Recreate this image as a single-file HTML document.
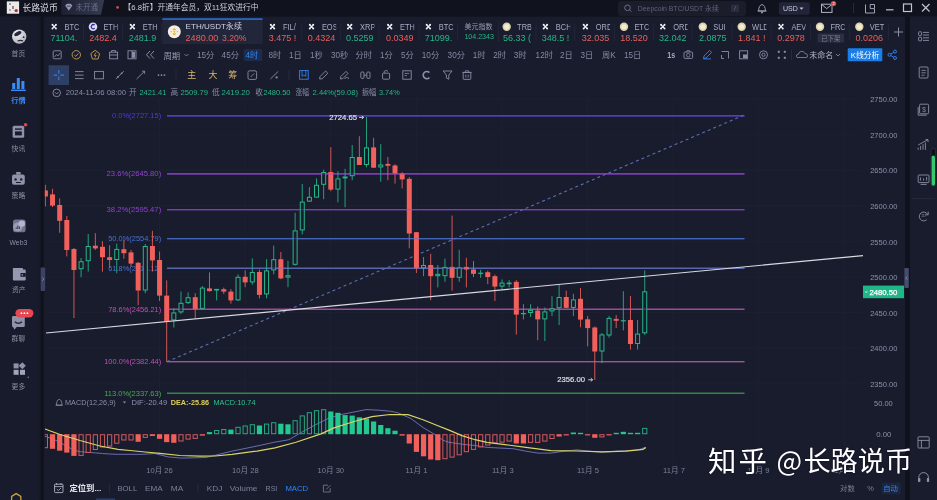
<!DOCTYPE html>
<html lang="zh-CN"><head><meta charset="utf-8"><title>ETH/USDT</title>
<style>
html,body{margin:0;padding:0;background:#191c2d;width:937px;height:500px;overflow:hidden}
svg{display:block;font-family:"Liberation Sans","Noto Sans CJK SC",sans-serif}
</style></head><body>
<svg width="937" height="500" viewBox="0 0 937 500">
<rect x="0" y="0" width="937" height="500" fill="#191c2d"/>
<rect x="0" y="0" width="937" height="16.6" fill="#10121d"/>
<defs><linearGradient id="lsep" x1="0" x2="1" y1="0" y2="0"><stop offset="0" stop-color="#181b2c"/><stop offset="0.35" stop-color="#13151f"/><stop offset="0.6" stop-color="#0e1019"/><stop offset="0.85" stop-color="#151826"/><stop offset="1" stop-color="#191c2d"/></linearGradient></defs>
<rect x="0" y="16.6" width="38.4" height="484" fill="#181b2c"/>
<rect x="38.4" y="16.6" width="6.6" height="484" fill="url(#lsep)"/>
<rect x="905" y="16.6" width="5" height="484" fill="#10121b"/>
<rect x="910" y="16.6" width="27" height="484" fill="#191c2d"/>
<line x1="45" y1="99.2" x2="862" y2="99.2" stroke="#1d2032" stroke-width="1"/>
<line x1="45" y1="134.8" x2="862" y2="134.8" stroke="#1d2032" stroke-width="1"/>
<line x1="45" y1="170.4" x2="862" y2="170.4" stroke="#1d2032" stroke-width="1"/>
<line x1="45" y1="206.0" x2="862" y2="206.0" stroke="#1d2032" stroke-width="1"/>
<line x1="45" y1="241.6" x2="862" y2="241.6" stroke="#1d2032" stroke-width="1"/>
<line x1="45" y1="277.2" x2="862" y2="277.2" stroke="#1d2032" stroke-width="1"/>
<line x1="45" y1="312.7" x2="862" y2="312.7" stroke="#1d2032" stroke-width="1"/>
<line x1="45" y1="348.3" x2="862" y2="348.3" stroke="#1d2032" stroke-width="1"/>
<line x1="45" y1="383.9" x2="862" y2="383.9" stroke="#1d2032" stroke-width="1"/>
<line x1="159.5" y1="100" x2="159.5" y2="462" stroke="#1d2032" stroke-width="1"/>
<line x1="245.1" y1="100" x2="245.1" y2="462" stroke="#1d2032" stroke-width="1"/>
<line x1="330.7" y1="100" x2="330.7" y2="462" stroke="#1d2032" stroke-width="1"/>
<line x1="416.3" y1="100" x2="416.3" y2="462" stroke="#1d2032" stroke-width="1"/>
<line x1="501.9" y1="100" x2="501.9" y2="462" stroke="#1d2032" stroke-width="1"/>
<line x1="587.5" y1="100" x2="587.5" y2="462" stroke="#1d2032" stroke-width="1"/>
<line x1="673.1" y1="100" x2="673.1" y2="462" stroke="#1d2032" stroke-width="1"/>
<line x1="758.7" y1="100" x2="758.7" y2="462" stroke="#1d2032" stroke-width="1"/>
<line x1="844.3" y1="100" x2="844.3" y2="462" stroke="#1d2032" stroke-width="1"/>
<line x1="167" y1="115.9" x2="744.5" y2="115.9" stroke="#5a44cf" stroke-width="1.1"/>
<text x="161.2" y="115.9" font-size="7.6" fill="#4d3ad6" text-anchor="end" font-weight="normal" textLength="49.2" lengthAdjust="spacingAndGlyphs" dominant-baseline="central">0.0%(2727.15)</text>
<line x1="167" y1="173.9" x2="744.5" y2="173.9" stroke="#9141d4" stroke-width="1.1"/>
<text x="161.2" y="173.9" font-size="7.6" fill="#9141d4" text-anchor="end" font-weight="normal" textLength="54.6" lengthAdjust="spacingAndGlyphs" dominant-baseline="central">23.6%(2645.80)</text>
<line x1="167" y1="209.7" x2="744.5" y2="209.7" stroke="#9141d4" stroke-width="1.1"/>
<text x="161.2" y="209.7" font-size="7.6" fill="#9141d4" text-anchor="end" font-weight="normal" textLength="54.6" lengthAdjust="spacingAndGlyphs" dominant-baseline="central">38.2%(2595.47)</text>
<line x1="167" y1="238.7" x2="744.5" y2="238.7" stroke="#4a72cf" stroke-width="1.1"/>
<text x="161.2" y="238.7" font-size="7.6" fill="#4a72cf" text-anchor="end" font-weight="normal" textLength="53" lengthAdjust="spacingAndGlyphs" dominant-baseline="central">50.0%(2554.79)</text>
<line x1="167" y1="268.2" x2="744.5" y2="268.2" stroke="#6475c4" stroke-width="1.1"/>
<text x="161.2" y="268.2" font-size="7.6" fill="#4a72cf" text-anchor="end" font-weight="normal" textLength="53" lengthAdjust="spacingAndGlyphs" dominant-baseline="central">61.8%(2514.12)</text>
<line x1="167" y1="309.2" x2="744.5" y2="309.2" stroke="#b656ae" stroke-width="1.1"/>
<text x="161.2" y="309.2" font-size="7.6" fill="#c04fb5" text-anchor="end" font-weight="normal" textLength="53" lengthAdjust="spacingAndGlyphs" dominant-baseline="central">78.6%(2456.21)</text>
<line x1="167" y1="361.7" x2="744.5" y2="361.7" stroke="#b35fac" stroke-width="1.1"/>
<text x="161.2" y="361.7" font-size="7.6" fill="#c04fb5" text-anchor="end" font-weight="normal" textLength="57" lengthAdjust="spacingAndGlyphs" dominant-baseline="central">100.0%(2382.44)</text>
<line x1="167" y1="393.2" x2="744.5" y2="393.2" stroke="#3a9a4c" stroke-width="1.1"/>
<text x="161.2" y="393.2" font-size="7.6" fill="#44ad50" text-anchor="end" font-weight="normal" textLength="57" lengthAdjust="spacingAndGlyphs" dominant-baseline="central">113.0%(2337.63)</text>
<line x1="167" y1="361.7" x2="745.5" y2="114.5" stroke="#5a6fae" stroke-width="1.1" stroke-dasharray="3 3"/>
<defs><clipPath id="plot"><rect x="44.8" y="96" width="818" height="372"/></clipPath></defs><g clip-path="url(#plot)">
<line x1="45.40" y1="184.8" x2="45.40" y2="206.4" stroke="#f2605c" stroke-width="1" opacity="0.85"/>
<rect x="42.90" y="190.4" width="5" height="6.1" fill="#f2605c"/>
<line x1="52.53" y1="188.8" x2="52.53" y2="207.0" stroke="#f2605c" stroke-width="1" opacity="0.85"/>
<rect x="50.03" y="194.4" width="5" height="11.2" fill="#f2605c"/>
<line x1="59.67" y1="198.4" x2="59.67" y2="232.8" stroke="#f2605c" stroke-width="1" opacity="0.85"/>
<rect x="57.17" y="205.0" width="5" height="15.8" fill="#f2605c"/>
<line x1="66.81" y1="216.0" x2="66.81" y2="256.4" stroke="#f2605c" stroke-width="1" opacity="0.85"/>
<rect x="64.31" y="220.0" width="5" height="30.0" fill="#f2605c"/>
<line x1="73.94" y1="248.0" x2="73.94" y2="318.0" stroke="#f2605c" stroke-width="1" opacity="0.85"/>
<rect x="71.44" y="249.0" width="5" height="21.0" fill="#f2605c"/>
<line x1="81.07" y1="258.0" x2="81.07" y2="277.2" stroke="#26b88a" stroke-width="1" opacity="0.85"/>
<rect x="79.07" y="261.7" width="4" height="7.0" fill="#191c2d" stroke="#26b88a" stroke-width="1"/>
<line x1="88.21" y1="234.0" x2="88.21" y2="271.6" stroke="#26b88a" stroke-width="1" opacity="0.85"/>
<rect x="86.21" y="246.5" width="4" height="14.2" fill="#191c2d" stroke="#26b88a" stroke-width="1"/>
<line x1="95.34" y1="233.2" x2="95.34" y2="250.0" stroke="#f2605c" stroke-width="1" opacity="0.85"/>
<rect x="92.84" y="245.7" width="5" height="2.7" fill="#f2605c"/>
<line x1="102.48" y1="241.2" x2="102.48" y2="271.6" stroke="#f2605c" stroke-width="1" opacity="0.85"/>
<rect x="99.98" y="246.8" width="5" height="10.4" fill="#f2605c"/>
<line x1="109.62" y1="245.2" x2="109.62" y2="267.6" stroke="#f2605c" stroke-width="1" opacity="0.85"/>
<rect x="107.12" y="257.2" width="5" height="2.8" fill="#f2605c"/>
<line x1="116.75" y1="243.6" x2="116.75" y2="273.2" stroke="#26b88a" stroke-width="1" opacity="0.85"/>
<rect x="114.75" y="249.4" width="4" height="10.1" fill="#191c2d" stroke="#26b88a" stroke-width="1"/>
<line x1="123.88" y1="239.6" x2="123.88" y2="258.8" stroke="#f2605c" stroke-width="1" opacity="0.85"/>
<rect x="121.38" y="249.2" width="5" height="4.0" fill="#f2605c"/>
<line x1="131.02" y1="250.0" x2="131.02" y2="266.8" stroke="#f2605c" stroke-width="1" opacity="0.85"/>
<rect x="128.52" y="252.4" width="5" height="11.2" fill="#f2605c"/>
<line x1="138.16" y1="262.0" x2="138.16" y2="305.2" stroke="#f2605c" stroke-width="1" opacity="0.85"/>
<rect x="135.66" y="262.8" width="5" height="27.7" fill="#f2605c"/>
<line x1="145.29" y1="244.0" x2="145.29" y2="293.2" stroke="#26b88a" stroke-width="1" opacity="0.85"/>
<rect x="143.29" y="246.5" width="4" height="43.5" fill="#191c2d" stroke="#26b88a" stroke-width="1"/>
<line x1="152.42" y1="230.8" x2="152.42" y2="271.6" stroke="#f2605c" stroke-width="1" opacity="0.85"/>
<rect x="149.92" y="246.0" width="5" height="14.4" fill="#f2605c"/>
<line x1="159.56" y1="251.6" x2="159.56" y2="301.0" stroke="#f2605c" stroke-width="1" opacity="0.85"/>
<rect x="157.06" y="260.0" width="5" height="35.6" fill="#f2605c"/>
<line x1="166.69" y1="280.4" x2="166.69" y2="362.0" stroke="#f2605c" stroke-width="1" opacity="0.85"/>
<rect x="164.19" y="295.6" width="5" height="25.6" fill="#f2605c"/>
<line x1="173.83" y1="308.4" x2="173.83" y2="327.6" stroke="#26b88a" stroke-width="1" opacity="0.85"/>
<rect x="171.83" y="312.9" width="4" height="7.0" fill="#191c2d" stroke="#26b88a" stroke-width="1"/>
<line x1="180.97" y1="291.6" x2="180.97" y2="314.0" stroke="#26b88a" stroke-width="1" opacity="0.85"/>
<rect x="178.97" y="303.3" width="4" height="8.6" fill="#191c2d" stroke="#26b88a" stroke-width="1"/>
<line x1="188.10" y1="292.4" x2="188.10" y2="304.0" stroke="#26b88a" stroke-width="1" opacity="0.85"/>
<rect x="186.10" y="297.7" width="4" height="4.9" fill="#191c2d" stroke="#26b88a" stroke-width="1"/>
<line x1="195.24" y1="293.2" x2="195.24" y2="318.8" stroke="#f2605c" stroke-width="1" opacity="0.85"/>
<rect x="192.74" y="297.2" width="5" height="12.0" fill="#f2605c"/>
<line x1="202.37" y1="286.0" x2="202.37" y2="309.2" stroke="#26b88a" stroke-width="1" opacity="0.85"/>
<rect x="200.37" y="288.1" width="4" height="20.3" fill="#191c2d" stroke="#26b88a" stroke-width="1"/>
<line x1="209.50" y1="272.4" x2="209.50" y2="291.6" stroke="#f2605c" stroke-width="1" opacity="0.85"/>
<rect x="207.00" y="288.4" width="5" height="2.7" fill="#f2605c"/>
<line x1="216.64" y1="288.9" x2="216.64" y2="300.4" stroke="#26b88a" stroke-width="1" opacity="0.85"/>
<rect x="214.14" y="288.9" width="5" height="1.6" fill="#26b88a"/>
<line x1="223.78" y1="287.6" x2="223.78" y2="294.0" stroke="#f2605c" stroke-width="1" opacity="0.85"/>
<rect x="221.28" y="289.2" width="5" height="2.4" fill="#f2605c"/>
<line x1="230.91" y1="289.2" x2="230.91" y2="303.6" stroke="#f2605c" stroke-width="1" opacity="0.85"/>
<rect x="228.41" y="291.6" width="5" height="8.8" fill="#f2605c"/>
<line x1="238.04" y1="274.4" x2="238.04" y2="301.0" stroke="#26b88a" stroke-width="1" opacity="0.85"/>
<rect x="236.04" y="277.3" width="4" height="22.6" fill="#191c2d" stroke="#26b88a" stroke-width="1"/>
<line x1="245.18" y1="270.4" x2="245.18" y2="287.2" stroke="#f2605c" stroke-width="1" opacity="0.85"/>
<rect x="242.68" y="276.8" width="5" height="5.6" fill="#f2605c"/>
<line x1="252.31" y1="258.4" x2="252.31" y2="284.8" stroke="#26b88a" stroke-width="1" opacity="0.85"/>
<rect x="250.31" y="272.5" width="4" height="9.4" fill="#191c2d" stroke="#26b88a" stroke-width="1"/>
<line x1="259.45" y1="269.6" x2="259.45" y2="298.4" stroke="#f2605c" stroke-width="1" opacity="0.85"/>
<rect x="256.95" y="272.0" width="5" height="22.9" fill="#f2605c"/>
<line x1="266.58" y1="259.2" x2="266.58" y2="298.4" stroke="#26b88a" stroke-width="1" opacity="0.85"/>
<rect x="264.58" y="270.9" width="4" height="23.0" fill="#191c2d" stroke="#26b88a" stroke-width="1"/>
<line x1="273.72" y1="245.6" x2="273.72" y2="274.4" stroke="#26b88a" stroke-width="1" opacity="0.85"/>
<rect x="271.72" y="259.7" width="4" height="10.2" fill="#191c2d" stroke="#26b88a" stroke-width="1"/>
<line x1="280.85" y1="252.0" x2="280.85" y2="279.2" stroke="#f2605c" stroke-width="1" opacity="0.85"/>
<rect x="278.35" y="259.2" width="5" height="19.2" fill="#f2605c"/>
<line x1="287.99" y1="260.8" x2="287.99" y2="287.2" stroke="#26b88a" stroke-width="1" opacity="0.85"/>
<rect x="285.99" y="275.7" width="4" height="1.4" fill="#191c2d" stroke="#26b88a" stroke-width="1"/>
<line x1="295.12" y1="212.8" x2="295.12" y2="265.6" stroke="#26b88a" stroke-width="1" opacity="0.85"/>
<rect x="293.12" y="230.9" width="4" height="33.4" fill="#191c2d" stroke="#26b88a" stroke-width="1"/>
<line x1="302.26" y1="184.0" x2="302.26" y2="234.4" stroke="#26b88a" stroke-width="1" opacity="0.85"/>
<rect x="300.26" y="202.1" width="4" height="27.8" fill="#191c2d" stroke="#26b88a" stroke-width="1"/>
<line x1="309.39" y1="187.2" x2="309.39" y2="202.0" stroke="#26b88a" stroke-width="1" opacity="0.85"/>
<rect x="307.39" y="197.3" width="4" height="3.8" fill="#191c2d" stroke="#26b88a" stroke-width="1"/>
<line x1="316.53" y1="178.4" x2="316.53" y2="197.6" stroke="#26b88a" stroke-width="1" opacity="0.85"/>
<rect x="314.53" y="185.3" width="4" height="11.8" fill="#191c2d" stroke="#26b88a" stroke-width="1"/>
<line x1="323.66" y1="169.6" x2="323.66" y2="199.2" stroke="#26b88a" stroke-width="1" opacity="0.85"/>
<rect x="321.66" y="172.5" width="4" height="11.8" fill="#191c2d" stroke="#26b88a" stroke-width="1"/>
<line x1="330.80" y1="147.2" x2="330.80" y2="191.2" stroke="#f2605c" stroke-width="1" opacity="0.85"/>
<rect x="328.30" y="172.0" width="5" height="17.6" fill="#f2605c"/>
<line x1="337.93" y1="171.2" x2="337.93" y2="202.4" stroke="#26b88a" stroke-width="1" opacity="0.85"/>
<rect x="335.93" y="178.9" width="4" height="10.2" fill="#191c2d" stroke="#26b88a" stroke-width="1"/>
<line x1="345.07" y1="168.8" x2="345.07" y2="207.2" stroke="#26b88a" stroke-width="1" opacity="0.85"/>
<rect x="342.57" y="176.5" width="5" height="1.9" fill="#26b88a"/>
<line x1="352.20" y1="145.0" x2="352.20" y2="180.2" stroke="#26b88a" stroke-width="1" opacity="0.85"/>
<rect x="350.20" y="157.5" width="4" height="18.2" fill="#191c2d" stroke="#26b88a" stroke-width="1"/>
<line x1="359.34" y1="136.2" x2="359.34" y2="165.0" stroke="#f2605c" stroke-width="1" opacity="0.85"/>
<rect x="356.84" y="157.0" width="5" height="8.0" fill="#f2605c"/>
<line x1="366.47" y1="117.0" x2="366.47" y2="167.4" stroke="#26b88a" stroke-width="1" opacity="0.85"/>
<rect x="364.47" y="147.9" width="4" height="16.6" fill="#191c2d" stroke="#26b88a" stroke-width="1"/>
<line x1="373.61" y1="137.8" x2="373.61" y2="168.0" stroke="#f2605c" stroke-width="1" opacity="0.85"/>
<rect x="371.11" y="147.4" width="5" height="20.3" fill="#f2605c"/>
<line x1="380.74" y1="144.2" x2="380.74" y2="181.8" stroke="#26b88a" stroke-width="1" opacity="0.85"/>
<rect x="378.74" y="165.0" width="4" height="1.9" fill="#191c2d" stroke="#26b88a" stroke-width="1"/>
<line x1="387.88" y1="157.0" x2="387.88" y2="180.2" stroke="#f2605c" stroke-width="1" opacity="0.85"/>
<rect x="385.38" y="163.9" width="5" height="1.9" fill="#f2605c"/>
<line x1="395.01" y1="164.2" x2="395.01" y2="183.6" stroke="#f2605c" stroke-width="1" opacity="0.85"/>
<rect x="392.51" y="165.5" width="5" height="8.0" fill="#f2605c"/>
<line x1="402.15" y1="172.2" x2="402.15" y2="188.4" stroke="#f2605c" stroke-width="1" opacity="0.85"/>
<rect x="399.65" y="173.5" width="5" height="5.9" fill="#f2605c"/>
<line x1="409.28" y1="177.0" x2="409.28" y2="248.3" stroke="#f2605c" stroke-width="1" opacity="0.85"/>
<rect x="406.78" y="178.8" width="5" height="54.7" fill="#f2605c"/>
<line x1="416.42" y1="232.0" x2="416.42" y2="273.0" stroke="#f2605c" stroke-width="1" opacity="0.85"/>
<rect x="413.92" y="232.2" width="5" height="36.0" fill="#f2605c"/>
<line x1="423.55" y1="257.0" x2="423.55" y2="276.2" stroke="#26b88a" stroke-width="1" opacity="0.85"/>
<rect x="421.55" y="265.5" width="4" height="2.2" fill="#191c2d" stroke="#26b88a" stroke-width="1"/>
<line x1="430.69" y1="253.8" x2="430.69" y2="300.2" stroke="#f2605c" stroke-width="1" opacity="0.85"/>
<rect x="428.19" y="265.0" width="5" height="11.2" fill="#f2605c"/>
<line x1="437.82" y1="265.0" x2="437.82" y2="287.4" stroke="#26b88a" stroke-width="1" opacity="0.85"/>
<rect x="435.82" y="274.3" width="4" height="1.4" fill="#191c2d" stroke="#26b88a" stroke-width="1"/>
<line x1="444.96" y1="258.6" x2="444.96" y2="281.8" stroke="#26b88a" stroke-width="1" opacity="0.85"/>
<rect x="442.96" y="267.4" width="4" height="8.3" fill="#191c2d" stroke="#26b88a" stroke-width="1"/>
<line x1="452.09" y1="215.6" x2="452.09" y2="290.6" stroke="#f2605c" stroke-width="1" opacity="0.85"/>
<rect x="449.59" y="266.9" width="5" height="10.9" fill="#f2605c"/>
<line x1="459.23" y1="249.8" x2="459.23" y2="281.8" stroke="#26b88a" stroke-width="1" opacity="0.85"/>
<rect x="457.23" y="267.9" width="4" height="9.4" fill="#191c2d" stroke="#26b88a" stroke-width="1"/>
<line x1="466.36" y1="257.8" x2="466.36" y2="287.4" stroke="#f2605c" stroke-width="1" opacity="0.85"/>
<rect x="463.86" y="266.9" width="5" height="2.6" fill="#f2605c"/>
<line x1="473.50" y1="261.0" x2="473.50" y2="277.0" stroke="#f2605c" stroke-width="1" opacity="0.85"/>
<rect x="471.00" y="269.5" width="5" height="4.3" fill="#f2605c"/>
<line x1="480.63" y1="269.8" x2="480.63" y2="277.8" stroke="#26b88a" stroke-width="1" opacity="0.85"/>
<rect x="478.13" y="272.7" width="5" height="1.2" fill="#26b88a"/>
<line x1="487.77" y1="270.6" x2="487.77" y2="284.2" stroke="#f2605c" stroke-width="1" opacity="0.85"/>
<rect x="485.27" y="272.2" width="5" height="4.8" fill="#f2605c"/>
<line x1="494.90" y1="274.6" x2="494.90" y2="301.0" stroke="#f2605c" stroke-width="1" opacity="0.85"/>
<rect x="492.40" y="276.2" width="5" height="10.4" fill="#f2605c"/>
<line x1="502.04" y1="279.4" x2="502.04" y2="289.0" stroke="#26b88a" stroke-width="1" opacity="0.85"/>
<rect x="500.04" y="283.1" width="4" height="3.0" fill="#191c2d" stroke="#26b88a" stroke-width="1"/>
<line x1="509.17" y1="280.2" x2="509.17" y2="287.4" stroke="#26b88a" stroke-width="1" opacity="0.85"/>
<rect x="506.67" y="282.6" width="5" height="1.6" fill="#26b88a"/>
<line x1="516.31" y1="280.2" x2="516.31" y2="334.6" stroke="#f2605c" stroke-width="1" opacity="0.85"/>
<rect x="513.81" y="281.8" width="5" height="32.8" fill="#f2605c"/>
<line x1="523.44" y1="304.2" x2="523.44" y2="319.4" stroke="#26b88a" stroke-width="1" opacity="0.85"/>
<rect x="520.94" y="313.0" width="5" height="1.2" fill="#26b88a"/>
<line x1="530.58" y1="304.2" x2="530.58" y2="317.0" stroke="#26b88a" stroke-width="1" opacity="0.85"/>
<rect x="528.58" y="310.3" width="4" height="2.2" fill="#191c2d" stroke="#26b88a" stroke-width="1"/>
<line x1="537.72" y1="306.6" x2="537.72" y2="340.2" stroke="#f2605c" stroke-width="1" opacity="0.85"/>
<rect x="535.22" y="310.6" width="5" height="8.8" fill="#f2605c"/>
<line x1="544.85" y1="307.4" x2="544.85" y2="341.0" stroke="#26b88a" stroke-width="1" opacity="0.85"/>
<rect x="542.85" y="311.9" width="4" height="7.0" fill="#191c2d" stroke="#26b88a" stroke-width="1"/>
<line x1="551.99" y1="296.2" x2="551.99" y2="316.2" stroke="#26b88a" stroke-width="1" opacity="0.85"/>
<rect x="549.99" y="308.7" width="4" height="2.2" fill="#191c2d" stroke="#26b88a" stroke-width="1"/>
<line x1="559.12" y1="285.0" x2="559.12" y2="325.0" stroke="#26b88a" stroke-width="1" opacity="0.85"/>
<rect x="557.12" y="297.5" width="4" height="10.2" fill="#191c2d" stroke="#26b88a" stroke-width="1"/>
<line x1="566.25" y1="290.6" x2="566.25" y2="308.2" stroke="#f2605c" stroke-width="1" opacity="0.85"/>
<rect x="563.75" y="297.0" width="5" height="10.9" fill="#f2605c"/>
<line x1="573.39" y1="293.8" x2="573.39" y2="316.2" stroke="#26b88a" stroke-width="1" opacity="0.85"/>
<rect x="571.39" y="299.9" width="4" height="7.5" fill="#191c2d" stroke="#26b88a" stroke-width="1"/>
<line x1="580.52" y1="288.0" x2="580.52" y2="327.3" stroke="#f2605c" stroke-width="1" opacity="0.85"/>
<rect x="578.02" y="298.8" width="5" height="20.8" fill="#f2605c"/>
<line x1="587.66" y1="316.0" x2="587.66" y2="346.4" stroke="#f2605c" stroke-width="1" opacity="0.85"/>
<rect x="585.16" y="319.3" width="5" height="8.8" fill="#f2605c"/>
<line x1="594.79" y1="326.4" x2="594.79" y2="380.0" stroke="#f2605c" stroke-width="1" opacity="0.85"/>
<rect x="592.29" y="327.5" width="5" height="24.0" fill="#f2605c"/>
<line x1="601.93" y1="333.0" x2="601.93" y2="363.2" stroke="#26b88a" stroke-width="1" opacity="0.85"/>
<rect x="599.93" y="334.9" width="4" height="16.1" fill="#191c2d" stroke="#26b88a" stroke-width="1"/>
<line x1="609.06" y1="316.0" x2="609.06" y2="337.6" stroke="#26b88a" stroke-width="1" opacity="0.85"/>
<rect x="607.06" y="318.4" width="4" height="16.6" fill="#191c2d" stroke="#26b88a" stroke-width="1"/>
<line x1="616.20" y1="315.2" x2="616.20" y2="328.0" stroke="#f2605c" stroke-width="1" opacity="0.85"/>
<rect x="613.70" y="318.9" width="5" height="1.9" fill="#f2605c"/>
<line x1="623.33" y1="291.2" x2="623.33" y2="330.4" stroke="#26b88a" stroke-width="1" opacity="0.85"/>
<rect x="620.83" y="320.2" width="5" height="1.2" fill="#26b88a"/>
<line x1="630.47" y1="296.0" x2="630.47" y2="349.6" stroke="#f2605c" stroke-width="1" opacity="0.85"/>
<rect x="627.97" y="320.0" width="5" height="24.0" fill="#f2605c"/>
<line x1="637.60" y1="320.0" x2="637.60" y2="349.6" stroke="#26b88a" stroke-width="1" opacity="0.85"/>
<rect x="635.60" y="334.1" width="4" height="9.4" fill="#191c2d" stroke="#26b88a" stroke-width="1"/>
<line x1="644.74" y1="270.4" x2="644.74" y2="334.9" stroke="#26b88a" stroke-width="1" opacity="0.85"/>
<rect x="642.74" y="291.8" width="4" height="41.0" fill="#191c2d" stroke="#26b88a" stroke-width="1"/>
</g>
<line x1="167" y1="115.9" x2="744.5" y2="115.9" stroke="#5a44cf" stroke-width="1.2" opacity="0.45"/>
<line x1="167" y1="173.9" x2="744.5" y2="173.9" stroke="#9141d4" stroke-width="1.2" opacity="0.45"/>
<line x1="167" y1="209.7" x2="744.5" y2="209.7" stroke="#9141d4" stroke-width="1.2" opacity="0.45"/>
<line x1="167" y1="238.7" x2="744.5" y2="238.7" stroke="#4a72cf" stroke-width="1.2" opacity="0.45"/>
<line x1="167" y1="268.2" x2="744.5" y2="268.2" stroke="#6475c4" stroke-width="1.2" opacity="0.45"/>
<line x1="167" y1="309.2" x2="744.5" y2="309.2" stroke="#b656ae" stroke-width="1.2" opacity="0.45"/>
<line x1="167" y1="361.7" x2="744.5" y2="361.7" stroke="#b35fac" stroke-width="1.2" opacity="0.45"/>
<line x1="167" y1="393.2" x2="744.5" y2="393.2" stroke="#3a9a4c" stroke-width="1.2" opacity="0.45"/>
<line x1="46" y1="333" x2="863" y2="255.6" stroke="#d9d9e2" stroke-width="1.2"/>
<text x="557.3" y="379.6" font-size="7.7" fill="#dcdee8" text-anchor="start" font-weight="normal" textLength="27.7" lengthAdjust="spacingAndGlyphs" dominant-baseline="central" stroke="#dcdee8" stroke-width="0.2">2356.00</text>
<path d="M588.2 379.8 H592.6 M590.8 378.2 L592.6 379.8 L590.8 381.4" fill="none" stroke="#dcdee8" stroke-width="0.9"/>
<text x="329.2" y="117.2" font-size="7.7" fill="#dcdee8" text-anchor="start" font-weight="normal" textLength="28" lengthAdjust="spacingAndGlyphs" dominant-baseline="central" stroke="#dcdee8" stroke-width="0.2">2724.65</text>
<path d="M359 117.4 H363.6 M361.8 115.8 L363.6 117.4 L361.8 119" fill="none" stroke="#dcdee8" stroke-width="0.9"/>
<g clip-path="url(#plot)">
<polyline points="44,436 52.5,438.8 59.6,442.2 66.8,446.2 74,450.3 81.1,451.8 88.2,452.4 95.4,452.9 102.5,453.5 109.6,454 117,454.3 142,454.3 155,453.5 168,456.9 181,458.1 206,457.5 219,454.3 232,451.1 245,448.5 257,446 275,442.1 289,439.7 302,432 315,425 328,418.6 340,414.7 353,412.2 366,409.6 379,410.2 391,411.3 398,412.8 411,418.6 423,427.5 436,435.2 443,440.3 449,442.3 462,444.2 475,445.5 487,447.4 505,448.3 513,448.7 526,451.2 538,453.1 551,453.1 564,451.2 577,449.9 590,451.2 602,452.2 620,451 638,450 645,447.4" fill="none" stroke="#6a6dae" stroke-width="1"/>
<rect x="43.30" y="434.7" width="4.2" height="13.0" fill="none" stroke="#cf5a5e" stroke-width="1"/>
<rect x="49.93" y="434.2" width="5.2" height="14.6" fill="#f2605c"/>
<rect x="57.07" y="434.2" width="5.2" height="16.5" fill="#f2605c"/>
<rect x="64.21" y="434.2" width="5.2" height="18.4" fill="#f2605c"/>
<rect x="71.34" y="434.2" width="5.2" height="21.7" fill="#f2605c"/>
<rect x="78.97" y="434.7" width="4.2" height="20.7" fill="none" stroke="#cf5a5e" stroke-width="1"/>
<rect x="86.11" y="434.7" width="4.2" height="17.8" fill="none" stroke="#cf5a5e" stroke-width="1"/>
<rect x="93.25" y="434.7" width="4.2" height="14.8" fill="none" stroke="#cf5a5e" stroke-width="1"/>
<rect x="100.38" y="434.7" width="4.2" height="12.3" fill="none" stroke="#cf5a5e" stroke-width="1"/>
<rect x="107.52" y="434.7" width="4.2" height="11.4" fill="none" stroke="#cf5a5e" stroke-width="1"/>
<rect x="114.65" y="434.7" width="4.2" height="8.5" fill="none" stroke="#cf5a5e" stroke-width="1"/>
<rect x="121.78" y="434.7" width="4.2" height="5.3" fill="none" stroke="#cf5a5e" stroke-width="1"/>
<rect x="128.92" y="434.7" width="4.2" height="5.3" fill="none" stroke="#cf5a5e" stroke-width="1"/>
<rect x="135.56" y="434.2" width="5.2" height="7.6" fill="#f2605c"/>
<rect x="143.19" y="434.7" width="4.2" height="2.7" fill="none" stroke="#cf5a5e" stroke-width="1"/>
<rect x="149.82" y="434.2" width="5.2" height="1.8" fill="#f2605c"/>
<rect x="156.96" y="434.2" width="5.2" height="4.6" fill="#f2605c"/>
<rect x="164.09" y="434.2" width="5.2" height="7.9" fill="#f2605c"/>
<rect x="171.23" y="434.2" width="5.2" height="8.6" fill="#f2605c"/>
<rect x="178.87" y="434.7" width="4.2" height="6.3" fill="none" stroke="#cf5a5e" stroke-width="1"/>
<rect x="186.00" y="434.7" width="4.2" height="4.4" fill="none" stroke="#cf5a5e" stroke-width="1"/>
<rect x="193.14" y="434.7" width="4.2" height="3.7" fill="none" stroke="#cf5a5e" stroke-width="1"/>
<rect x="199.77" y="434.2" width="5.2" height="1.4" fill="#f2605c"/>
<rect x="206.91" y="432.1" width="5.2" height="2.1" fill="#22c88e"/>
<rect x="214.54" y="430.5" width="4.2" height="3.2" fill="none" stroke="#27a880" stroke-width="1"/>
<rect x="221.68" y="429.5" width="4.2" height="4.2" fill="none" stroke="#27a880" stroke-width="1"/>
<rect x="228.31" y="429.6" width="5.2" height="4.6" fill="#22c88e"/>
<rect x="235.94" y="427.3" width="4.2" height="6.4" fill="none" stroke="#27a880" stroke-width="1"/>
<rect x="243.08" y="426.0" width="4.2" height="7.7" fill="none" stroke="#27a880" stroke-width="1"/>
<rect x="250.22" y="424.7" width="4.2" height="9.0" fill="none" stroke="#27a880" stroke-width="1"/>
<rect x="256.85" y="425.5" width="5.2" height="8.7" fill="#22c88e"/>
<rect x="264.48" y="424.1" width="4.2" height="9.6" fill="none" stroke="#27a880" stroke-width="1"/>
<rect x="271.62" y="422.7" width="4.2" height="11.0" fill="none" stroke="#27a880" stroke-width="1"/>
<rect x="278.25" y="423.7" width="5.2" height="10.5" fill="#22c88e"/>
<rect x="285.39" y="424.3" width="5.2" height="9.9" fill="#22c88e"/>
<rect x="293.02" y="420.7" width="4.2" height="13.0" fill="none" stroke="#27a880" stroke-width="1"/>
<rect x="300.16" y="415.9" width="4.2" height="17.8" fill="none" stroke="#27a880" stroke-width="1"/>
<rect x="307.29" y="412.7" width="4.2" height="21.0" fill="none" stroke="#27a880" stroke-width="1"/>
<rect x="314.43" y="410.7" width="4.2" height="23.0" fill="none" stroke="#27a880" stroke-width="1"/>
<rect x="321.56" y="409.7" width="4.2" height="24.0" fill="none" stroke="#27a880" stroke-width="1"/>
<rect x="328.20" y="411.5" width="5.2" height="22.7" fill="#22c88e"/>
<rect x="335.33" y="412.8" width="5.2" height="21.4" fill="#22c88e"/>
<rect x="342.47" y="415.1" width="5.2" height="19.1" fill="#22c88e"/>
<rect x="349.60" y="415.6" width="5.2" height="18.6" fill="#22c88e"/>
<rect x="356.74" y="417.3" width="5.2" height="16.9" fill="#22c88e"/>
<rect x="363.87" y="418.6" width="5.2" height="15.6" fill="#22c88e"/>
<rect x="371.01" y="421.5" width="5.2" height="12.7" fill="#22c88e"/>
<rect x="378.14" y="425.0" width="5.2" height="9.2" fill="#22c88e"/>
<rect x="385.28" y="428.2" width="5.2" height="6.0" fill="#22c88e"/>
<rect x="392.41" y="430.7" width="5.2" height="3.5" fill="#22c88e"/>
<rect x="399.55" y="434.2" width="5.2" height="1.4" fill="#f2605c"/>
<rect x="406.68" y="434.2" width="5.2" height="9.3" fill="#f2605c"/>
<rect x="413.82" y="434.2" width="5.2" height="17.7" fill="#f2605c"/>
<rect x="420.95" y="434.2" width="5.2" height="22.1" fill="#f2605c"/>
<rect x="428.09" y="434.2" width="5.2" height="25.3" fill="#f2605c"/>
<rect x="435.22" y="434.2" width="5.2" height="26.0" fill="#f2605c"/>
<rect x="442.86" y="434.7" width="4.2" height="24.0" fill="none" stroke="#cf5a5e" stroke-width="1"/>
<rect x="449.99" y="434.7" width="4.2" height="22.4" fill="none" stroke="#cf5a5e" stroke-width="1"/>
<rect x="457.13" y="434.7" width="4.2" height="20.1" fill="none" stroke="#cf5a5e" stroke-width="1"/>
<rect x="464.26" y="434.7" width="4.2" height="17.0" fill="none" stroke="#cf5a5e" stroke-width="1"/>
<rect x="471.40" y="434.7" width="4.2" height="14.7" fill="none" stroke="#cf5a5e" stroke-width="1"/>
<rect x="478.53" y="434.7" width="4.2" height="12.2" fill="none" stroke="#cf5a5e" stroke-width="1"/>
<rect x="485.67" y="434.7" width="4.2" height="10.3" fill="none" stroke="#cf5a5e" stroke-width="1"/>
<rect x="492.80" y="434.7" width="4.2" height="8.3" fill="none" stroke="#cf5a5e" stroke-width="1"/>
<rect x="499.94" y="434.7" width="4.2" height="7.4" fill="none" stroke="#cf5a5e" stroke-width="1"/>
<rect x="507.07" y="434.7" width="4.2" height="6.4" fill="none" stroke="#cf5a5e" stroke-width="1"/>
<rect x="513.71" y="434.2" width="5.2" height="9.3" fill="#f2605c"/>
<rect x="520.84" y="434.2" width="5.2" height="9.3" fill="#f2605c"/>
<rect x="528.48" y="434.7" width="4.2" height="7.7" fill="none" stroke="#cf5a5e" stroke-width="1"/>
<rect x="535.62" y="434.7" width="4.2" height="7.7" fill="none" stroke="#cf5a5e" stroke-width="1"/>
<rect x="542.75" y="434.7" width="4.2" height="6.4" fill="none" stroke="#cf5a5e" stroke-width="1"/>
<rect x="549.88" y="434.7" width="4.2" height="3.8" fill="none" stroke="#cf5a5e" stroke-width="1"/>
<rect x="556.52" y="434.2" width="5.2" height="2.3" fill="#f2605c"/>
<rect x="563.65" y="434.2" width="5.2" height="1.2" fill="#f2605c"/>
<rect x="570.79" y="432.5" width="5.2" height="1.7" fill="#22c88e"/>
<rect x="577.92" y="432.8" width="5.2" height="1.4" fill="#22c88e"/>
<rect x="585.06" y="434.2" width="5.2" height="1.2" fill="#f2605c"/>
<rect x="592.19" y="434.2" width="5.2" height="3.6" fill="#f2605c"/>
<rect x="599.83" y="434.7" width="4.2" height="2.2" fill="none" stroke="#cf5a5e" stroke-width="1"/>
<rect x="606.46" y="434.2" width="5.2" height="1.2" fill="#f2605c"/>
<rect x="613.60" y="432.8" width="5.2" height="1.4" fill="#22c88e"/>
<rect x="620.73" y="431.8" width="5.2" height="2.4" fill="#22c88e"/>
<rect x="627.87" y="432.8" width="5.2" height="1.4" fill="#22c88e"/>
<rect x="635.00" y="432.8" width="5.2" height="1.4" fill="#22c88e"/>
<rect x="642.64" y="428.4" width="4.2" height="5.3" fill="none" stroke="#27a880" stroke-width="1"/>
<polyline points="45,429 60,434.5 80,440.5 100,446 118,449.3 130,450.5 145,452 160,453.3 180,455.5 200,456.2 215,456 232,454.3 257,451.1 275,447.9 296,442.3 321,433.9 334,427.9 347,423.7 360,419.8 372,416.6 390,414.5 408,414.7 423,419.8 436,425 449,430.1 462,435.6 475,439.7 487,442.3 505,444.6 526,447.4 551,450.6 577,451 602,451.9 626,451.2 643,449.3 646,447.6" fill="none" stroke="#d8d466" stroke-width="1.2"/>
</g>
<text x="897.4" y="99.7" font-size="7.6" fill="#8e92aa" text-anchor="end" font-weight="normal" textLength="27.2" lengthAdjust="spacingAndGlyphs" dominant-baseline="central">2750.00</text>
<text x="897.4" y="135.29000000000002" font-size="7.6" fill="#8e92aa" text-anchor="end" font-weight="normal" textLength="27.2" lengthAdjust="spacingAndGlyphs" dominant-baseline="central">2700.00</text>
<text x="897.4" y="170.88" font-size="7.6" fill="#8e92aa" text-anchor="end" font-weight="normal" textLength="27.2" lengthAdjust="spacingAndGlyphs" dominant-baseline="central">2650.00</text>
<text x="897.4" y="206.47000000000003" font-size="7.6" fill="#8e92aa" text-anchor="end" font-weight="normal" textLength="27.2" lengthAdjust="spacingAndGlyphs" dominant-baseline="central">2600.00</text>
<text x="897.4" y="242.06" font-size="7.6" fill="#8e92aa" text-anchor="end" font-weight="normal" textLength="27.2" lengthAdjust="spacingAndGlyphs" dominant-baseline="central">2550.00</text>
<text x="897.4" y="277.65000000000003" font-size="7.6" fill="#8e92aa" text-anchor="end" font-weight="normal" textLength="27.2" lengthAdjust="spacingAndGlyphs" dominant-baseline="central">2500.00</text>
<text x="897.4" y="313.24" font-size="7.6" fill="#8e92aa" text-anchor="end" font-weight="normal" textLength="27.2" lengthAdjust="spacingAndGlyphs" dominant-baseline="central">2450.00</text>
<text x="897.4" y="348.83000000000004" font-size="7.6" fill="#8e92aa" text-anchor="end" font-weight="normal" textLength="27.2" lengthAdjust="spacingAndGlyphs" dominant-baseline="central">2400.00</text>
<text x="897.4" y="384.42" font-size="7.6" fill="#8e92aa" text-anchor="end" font-weight="normal" textLength="27.2" lengthAdjust="spacingAndGlyphs" dominant-baseline="central">2350.00</text>
<text x="892.8" y="403.2" font-size="7.6" fill="#8e92aa" text-anchor="end" font-weight="normal" textLength="18.8" lengthAdjust="spacingAndGlyphs" dominant-baseline="central">50.00</text>
<text x="891.4" y="434.4" font-size="7.6" fill="#8e92aa" text-anchor="end" font-weight="normal" textLength="15.2" lengthAdjust="spacingAndGlyphs" dominant-baseline="central">0.00</text>
<rect x="863" y="285.6" width="41" height="12.6" fill="#1fb787"/>
<line x1="865" y1="292" x2="867.5" y2="292" stroke="#e8fff6" stroke-width="0.8"/>
<text x="869.4" y="292" font-size="7.8" fill="#ffffff" text-anchor="start" font-weight="normal" textLength="28" lengthAdjust="spacingAndGlyphs" dominant-baseline="central" stroke="#ffffff" stroke-width="0.25">2480.50</text>

<rect x="6.8" y="1.4" width="12.3" height="12.3" fill="#ece9e8"/>
<rect x="9" y="3" width="2" height="2" fill="#9a9aa0"/><rect x="12" y="6" width="2" height="3" fill="#8a8a90"/><rect x="9" y="9" width="2" height="2" fill="#b0a8a8"/>
<circle cx="16.2" cy="10.6" r="1.7" fill="#b8302c"/>
<text x="22.5" y="7.6" font-size="8.8" fill="#d6d8e2" text-anchor="start" font-weight="normal" dominant-baseline="central" >长路说币</text>
<defs><linearGradient id="bdg" x1="0" x2="1" y1="0" y2="0"><stop offset="0" stop-color="#1d2032"/><stop offset="1" stop-color="#363a50"/></linearGradient></defs>
<path d="M61.4 0 H104.2 L101 14.7 H61.4 Z" fill="url(#bdg)"/>
<path d="M65.2 5.6 L67 3.8 H70.6 L72.4 5.6 L68.8 10.8 Z" fill="#9498b2"/><path d="M67 6.2 H70.6" stroke="#2a2d40" stroke-width="0.8"/>
<text x="75.5" y="7.2" font-size="7.6" fill="#676c88" text-anchor="start" font-weight="normal" dominant-baseline="central" textLength="22.5" lengthAdjust="spacingAndGlyphs" >未开通</text>
<circle cx="117.6" cy="7.4" r="1.4" fill="#d84457"/>
<text x="123.6" y="7.4" font-size="8" fill="#cfd1db" text-anchor="start" font-weight="normal" dominant-baseline="central" textLength="135" lengthAdjust="spacingAndGlyphs" >【6.8折】开通年会员，双11狂欢进行中</text>
<rect x="618" y="1" width="128" height="15" rx="3" fill="#1b1d2b"/>
<circle cx="627.5" cy="7.8" r="2.8" fill="none" stroke="#6b6f87" stroke-width="1"/><line x1="629.5" y1="9.8" x2="631.3" y2="11.6" stroke="#6b6f87" stroke-width="1"/>
<text x="637.8" y="8.2" font-size="6.9" fill="#5f6379" text-anchor="start" font-weight="normal" dominant-baseline="central" >Deepcoin BTC/USDT 永续</text>
<rect x="731" y="4.5" width="8" height="7.5" rx="1" fill="#2a2d40"/>
<text x="735" y="8.3" font-size="6" fill="#6b6f87" text-anchor="middle" font-weight="normal" dominant-baseline="central" >/</text>
<path d="M758.5 11 Q759 5 762 4.6 Q765 5 765.5 11 Z" fill="none" stroke="#9a9eb4" stroke-width="1"/><line x1="757.5" y1="11" x2="766.5" y2="11" stroke="#9a9eb4" stroke-width="1"/><circle cx="762" cy="12.6" r="1" fill="#9a9eb4"/>
<rect x="778.8" y="2.2" width="31" height="12.6" rx="2" fill="#22253a"/>
<text x="783" y="8.6" font-size="7" fill="#c9cbd6" text-anchor="start" font-weight="normal" dominant-baseline="central" >USD</text>
<path d="M799.5 7.6 L803.5 7.6 L801.5 9.8 Z" fill="#c9cbd6"/>
<rect x="821.5" y="4.2" width="10.5" height="8.2" fill="none" stroke="#b0b3c6" stroke-width="1"/><path d="M821.5 4.4 L826.7 8.6 L832 4.4" fill="none" stroke="#b0b3c6" stroke-width="1"/>
<circle cx="833.5" cy="3.6" r="2.7" fill="#e0464a"/>
<text x="833.5" y="3.8" font-size="4" fill="#fff" text-anchor="middle" font-weight="normal" dominant-baseline="central" >2</text>
<line x1="853.6" y1="3" x2="853.6" y2="13" stroke="#2a2d3e" stroke-width="1"/>
<path d="M865.5 4.5 V13 H874.5 V9" fill="none" stroke="#a0a3b6" stroke-width="1"/><path d="M870.2 4.5 H874.5 V8.6 H870.2 Z" fill="none" stroke="#a0a3b6" stroke-width="1"/>
<line x1="886" y1="9.8" x2="893.5" y2="9.8" stroke="#c2c4d2" stroke-width="1.2"/>
<rect x="903.5" y="4" width="8" height="7.5" fill="none" stroke="#c2c4d2" stroke-width="1.2"/>
<path d="M922 4 L929.5 11.5 M929.5 4 L922 11.5" stroke="#c2c4d2" stroke-width="1.2"/>
<defs>
<clipPath id="tc0"><rect x="46.2" y="18" width="32.7" height="26"/></clipPath>
<clipPath id="tc1"><rect x="85" y="18" width="32.7" height="26"/></clipPath>
<clipPath id="tc2"><rect x="124.4" y="18" width="32.7" height="26"/></clipPath>
<clipPath id="tc3"><rect x="264.5" y="18" width="32.7" height="26"/></clipPath>
<clipPath id="tc4"><rect x="303.5" y="18" width="32.7" height="26"/></clipPath>
<clipPath id="tc5"><rect x="341.7" y="18" width="32.7" height="26"/></clipPath>
<clipPath id="tc6"><rect x="381.7" y="18" width="32.7" height="26"/></clipPath>
<clipPath id="tc7"><rect x="420.4" y="18" width="32.7" height="26"/></clipPath>
<clipPath id="tc8"><rect x="498.7" y="18" width="32.7" height="26"/></clipPath>
<clipPath id="tc9"><rect x="537.4" y="18" width="32.7" height="26"/></clipPath>
<clipPath id="tc10"><rect x="577.4" y="18" width="32.7" height="26"/></clipPath>
<clipPath id="tc11"><rect x="616" y="18" width="32.7" height="26"/></clipPath>
<clipPath id="tc12"><rect x="654.8" y="18" width="32.7" height="26"/></clipPath>
<clipPath id="tc13"><rect x="694.8" y="18" width="32.7" height="26"/></clipPath>
<clipPath id="tc14"><rect x="733.7" y="18" width="32.7" height="26"/></clipPath>
<clipPath id="tc15"><rect x="773" y="18" width="32.7" height="26"/></clipPath>
<clipPath id="tc16"><rect x="812" y="18" width="32.7" height="26"/></clipPath>
<clipPath id="tc17"><rect x="851.3" y="18" width="32.7" height="26"/></clipPath>
</defs>
<path d="M52.400000000000006 24.75 L56.0 28.549999999999997 M56.0 24.75 L52.400000000000006 28.549999999999997" stroke="#e8e8f0" stroke-width="1.1"/>
<circle cx="54.20" cy="26.65" r="0.95" fill="#f4f4f8"/>
<circle cx="52.45" cy="24.75" r="0.95" fill="#f4f4f8"/>
<circle cx="55.95" cy="24.75" r="0.95" fill="#f4f4f8"/>
<circle cx="52.45" cy="28.55" r="0.95" fill="#f4f4f8"/>
<circle cx="55.95" cy="28.55" r="0.95" fill="#f4f4f8"/>
<g clip-path="url(#tc0)">
<g transform="translate(64.60000000000001 26.7) scale(0.82 1)"><text x="0" y="0" font-size="9.1" fill="#a9acc2" dominant-baseline="central">BTC</text></g>
<text x="50.5" y="38.1" font-size="9" fill="#27b587" text-anchor="start" font-weight="normal" dominant-baseline="central" >71104.</text>
</g>
<line x1="83.5" y1="23" x2="83.5" y2="41" stroke="#262939" stroke-width="0.8"/>
<circle cx="93" cy="26.7" r="4.3" fill="#dcd9fb"/><path d="M94.7 25.1 A2.1 2.1 0 1 0 94.7 28.3" fill="none" stroke="#3b2f96" stroke-width="1.3"/>
<g clip-path="url(#tc1)">
<g transform="translate(103.4 26.7) scale(0.82 1)"><text x="0" y="0" font-size="9.1" fill="#a9acc2" dominant-baseline="central">ETH</text></g>
<text x="89.3" y="38.1" font-size="9" fill="#e8605b" text-anchor="start" font-weight="normal" dominant-baseline="central" >2482.4</text>
</g>
<line x1="122.3" y1="23" x2="122.3" y2="41" stroke="#262939" stroke-width="0.8"/>
<path d="M130.6 24.75 L134.20000000000002 28.549999999999997 M134.20000000000002 24.75 L130.6 28.549999999999997" stroke="#e8e8f0" stroke-width="1.1"/>
<circle cx="132.40" cy="26.65" r="0.95" fill="#f4f4f8"/>
<circle cx="130.65" cy="24.75" r="0.95" fill="#f4f4f8"/>
<circle cx="134.15" cy="24.75" r="0.95" fill="#f4f4f8"/>
<circle cx="130.65" cy="28.55" r="0.95" fill="#f4f4f8"/>
<circle cx="134.15" cy="28.55" r="0.95" fill="#f4f4f8"/>
<g clip-path="url(#tc2)">
<g transform="translate(142.8 26.7) scale(0.82 1)"><text x="0" y="0" font-size="9.1" fill="#a9acc2" dominant-baseline="central">ETH</text></g>
<text x="128.70000000000002" y="38.1" font-size="9" fill="#27b587" text-anchor="start" font-weight="normal" dominant-baseline="central" >2481.9</text>
</g>
<line x1="161.70000000000002" y1="23" x2="161.70000000000002" y2="41" stroke="#262939" stroke-width="0.8"/>
<path d="M270.7 24.75 L274.3 28.549999999999997 M274.3 24.75 L270.7 28.549999999999997" stroke="#e8e8f0" stroke-width="1.1"/>
<circle cx="272.50" cy="26.65" r="0.95" fill="#f4f4f8"/>
<circle cx="270.75" cy="24.75" r="0.95" fill="#f4f4f8"/>
<circle cx="274.25" cy="24.75" r="0.95" fill="#f4f4f8"/>
<circle cx="270.75" cy="28.55" r="0.95" fill="#f4f4f8"/>
<circle cx="274.25" cy="28.55" r="0.95" fill="#f4f4f8"/>
<g clip-path="url(#tc3)">
<g transform="translate(282.9 26.7) scale(0.82 1)"><text x="0" y="0" font-size="9.1" fill="#a9acc2" dominant-baseline="central">FIL/</text></g>
<text x="268.8" y="38.1" font-size="9" fill="#e8605b" text-anchor="start" font-weight="normal" dominant-baseline="central" >3.475 !</text>
</g>
<line x1="301.8" y1="23" x2="301.8" y2="41" stroke="#262939" stroke-width="0.8"/>
<path d="M309.7 24.75 L313.3 28.549999999999997 M313.3 24.75 L309.7 28.549999999999997" stroke="#e8e8f0" stroke-width="1.1"/>
<circle cx="311.50" cy="26.65" r="0.95" fill="#f4f4f8"/>
<circle cx="309.75" cy="24.75" r="0.95" fill="#f4f4f8"/>
<circle cx="313.25" cy="24.75" r="0.95" fill="#f4f4f8"/>
<circle cx="309.75" cy="28.55" r="0.95" fill="#f4f4f8"/>
<circle cx="313.25" cy="28.55" r="0.95" fill="#f4f4f8"/>
<g clip-path="url(#tc4)">
<g transform="translate(321.9 26.7) scale(0.82 1)"><text x="0" y="0" font-size="9.1" fill="#a9acc2" dominant-baseline="central">EOS</text></g>
<text x="307.8" y="38.1" font-size="9" fill="#e8605b" text-anchor="start" font-weight="normal" dominant-baseline="central" >0.4324</text>
</g>
<line x1="340.8" y1="23" x2="340.8" y2="41" stroke="#262939" stroke-width="0.8"/>
<path d="M347.9 24.75 L351.5 28.549999999999997 M351.5 24.75 L347.9 28.549999999999997" stroke="#e8e8f0" stroke-width="1.1"/>
<circle cx="349.70" cy="26.65" r="0.95" fill="#f4f4f8"/>
<circle cx="347.95" cy="24.75" r="0.95" fill="#f4f4f8"/>
<circle cx="351.45" cy="24.75" r="0.95" fill="#f4f4f8"/>
<circle cx="347.95" cy="28.55" r="0.95" fill="#f4f4f8"/>
<circle cx="351.45" cy="28.55" r="0.95" fill="#f4f4f8"/>
<g clip-path="url(#tc5)">
<g transform="translate(360.09999999999997 26.7) scale(0.82 1)"><text x="0" y="0" font-size="9.1" fill="#a9acc2" dominant-baseline="central">XRP</text></g>
<text x="346.0" y="38.1" font-size="9" fill="#27b587" text-anchor="start" font-weight="normal" dominant-baseline="central" >0.5259</text>
</g>
<line x1="379.0" y1="23" x2="379.0" y2="41" stroke="#262939" stroke-width="0.8"/>
<path d="M387.9 24.75 L391.5 28.549999999999997 M391.5 24.75 L387.9 28.549999999999997" stroke="#e8e8f0" stroke-width="1.1"/>
<circle cx="389.70" cy="26.65" r="0.95" fill="#f4f4f8"/>
<circle cx="387.95" cy="24.75" r="0.95" fill="#f4f4f8"/>
<circle cx="391.45" cy="24.75" r="0.95" fill="#f4f4f8"/>
<circle cx="387.95" cy="28.55" r="0.95" fill="#f4f4f8"/>
<circle cx="391.45" cy="28.55" r="0.95" fill="#f4f4f8"/>
<g clip-path="url(#tc6)">
<g transform="translate(400.09999999999997 26.7) scale(0.82 1)"><text x="0" y="0" font-size="9.1" fill="#a9acc2" dominant-baseline="central">ETH</text></g>
<text x="386.0" y="38.1" font-size="9" fill="#e8605b" text-anchor="start" font-weight="normal" dominant-baseline="central" >0.0349</text>
</g>
<line x1="419.0" y1="23" x2="419.0" y2="41" stroke="#262939" stroke-width="0.8"/>
<path d="M426.59999999999997 24.75 L430.2 28.549999999999997 M430.2 24.75 L426.59999999999997 28.549999999999997" stroke="#e8e8f0" stroke-width="1.1"/>
<circle cx="428.40" cy="26.65" r="0.95" fill="#f4f4f8"/>
<circle cx="426.65" cy="24.75" r="0.95" fill="#f4f4f8"/>
<circle cx="430.15" cy="24.75" r="0.95" fill="#f4f4f8"/>
<circle cx="426.65" cy="28.55" r="0.95" fill="#f4f4f8"/>
<circle cx="430.15" cy="28.55" r="0.95" fill="#f4f4f8"/>
<g clip-path="url(#tc7)">
<g transform="translate(438.79999999999995 26.7) scale(0.82 1)"><text x="0" y="0" font-size="9.1" fill="#a9acc2" dominant-baseline="central">BTC</text></g>
<text x="424.7" y="38.1" font-size="9" fill="#27b587" text-anchor="start" font-weight="normal" dominant-baseline="central" >71099.</text>
</g>
<line x1="457.7" y1="23" x2="457.7" y2="41" stroke="#262939" stroke-width="0.8"/>
<circle cx="506.7" cy="26.8" r="4.2" fill="#ddd2a8"/><circle cx="506.7" cy="26.8" r="2.6" fill="#f3ecd4"/>
<g clip-path="url(#tc8)">
<g transform="translate(517.1 26.7) scale(0.82 1)"><text x="0" y="0" font-size="9.1" fill="#a9acc2" dominant-baseline="central">TRB</text></g>
<text x="503.0" y="38.1" font-size="9" fill="#27b587" text-anchor="start" font-weight="normal" dominant-baseline="central" >56.33 (</text>
</g>
<line x1="536.0" y1="23" x2="536.0" y2="41" stroke="#262939" stroke-width="0.8"/>
<path d="M543.6 24.75 L547.1999999999999 28.549999999999997 M547.1999999999999 24.75 L543.6 28.549999999999997" stroke="#e8e8f0" stroke-width="1.1"/>
<circle cx="545.40" cy="26.65" r="0.95" fill="#f4f4f8"/>
<circle cx="543.65" cy="24.75" r="0.95" fill="#f4f4f8"/>
<circle cx="547.15" cy="24.75" r="0.95" fill="#f4f4f8"/>
<circle cx="543.65" cy="28.55" r="0.95" fill="#f4f4f8"/>
<circle cx="547.15" cy="28.55" r="0.95" fill="#f4f4f8"/>
<g clip-path="url(#tc9)">
<g transform="translate(555.8 26.7) scale(0.82 1)"><text x="0" y="0" font-size="9.1" fill="#a9acc2" dominant-baseline="central">BCH</text></g>
<text x="541.6999999999999" y="38.1" font-size="9" fill="#27b587" text-anchor="start" font-weight="normal" dominant-baseline="central" >348.5 !</text>
</g>
<line x1="574.6999999999999" y1="23" x2="574.6999999999999" y2="41" stroke="#262939" stroke-width="0.8"/>
<path d="M583.6 24.75 L587.1999999999999 28.549999999999997 M587.1999999999999 24.75 L583.6 28.549999999999997" stroke="#e8e8f0" stroke-width="1.1"/>
<circle cx="585.40" cy="26.65" r="0.95" fill="#f4f4f8"/>
<circle cx="583.65" cy="24.75" r="0.95" fill="#f4f4f8"/>
<circle cx="587.15" cy="24.75" r="0.95" fill="#f4f4f8"/>
<circle cx="583.65" cy="28.55" r="0.95" fill="#f4f4f8"/>
<circle cx="587.15" cy="28.55" r="0.95" fill="#f4f4f8"/>
<g clip-path="url(#tc10)">
<g transform="translate(595.8 26.7) scale(0.82 1)"><text x="0" y="0" font-size="9.1" fill="#a9acc2" dominant-baseline="central">ORD</text></g>
<text x="581.6999999999999" y="38.1" font-size="9" fill="#e8605b" text-anchor="start" font-weight="normal" dominant-baseline="central" >32.035</text>
</g>
<line x1="614.6999999999999" y1="23" x2="614.6999999999999" y2="41" stroke="#262939" stroke-width="0.8"/>
<circle cx="624" cy="26.8" r="4.2" fill="#ddd2a8"/><circle cx="624" cy="26.8" r="2.6" fill="#f3ecd4"/>
<g clip-path="url(#tc11)">
<g transform="translate(634.4 26.7) scale(0.82 1)"><text x="0" y="0" font-size="9.1" fill="#a9acc2" dominant-baseline="central">ETC</text></g>
<text x="620.3" y="38.1" font-size="9" fill="#e8605b" text-anchor="start" font-weight="normal" dominant-baseline="central" >18.520</text>
</g>
<line x1="653.3" y1="23" x2="653.3" y2="41" stroke="#262939" stroke-width="0.8"/>
<path d="M661.0 24.75 L664.5999999999999 28.549999999999997 M664.5999999999999 24.75 L661.0 28.549999999999997" stroke="#e8e8f0" stroke-width="1.1"/>
<circle cx="662.80" cy="26.65" r="0.95" fill="#f4f4f8"/>
<circle cx="661.05" cy="24.75" r="0.95" fill="#f4f4f8"/>
<circle cx="664.55" cy="24.75" r="0.95" fill="#f4f4f8"/>
<circle cx="661.05" cy="28.55" r="0.95" fill="#f4f4f8"/>
<circle cx="664.55" cy="28.55" r="0.95" fill="#f4f4f8"/>
<g clip-path="url(#tc12)">
<g transform="translate(673.1999999999999 26.7) scale(0.82 1)"><text x="0" y="0" font-size="9.1" fill="#a9acc2" dominant-baseline="central">ORD</text></g>
<text x="659.0999999999999" y="38.1" font-size="9" fill="#27b587" text-anchor="start" font-weight="normal" dominant-baseline="central" >32.042</text>
</g>
<line x1="692.0999999999999" y1="23" x2="692.0999999999999" y2="41" stroke="#262939" stroke-width="0.8"/>
<circle cx="702.8" cy="26.8" r="4.2" fill="#ddd2a8"/><circle cx="702.8" cy="26.8" r="2.6" fill="#f3ecd4"/>
<g clip-path="url(#tc13)">
<g transform="translate(713.1999999999999 26.7) scale(0.82 1)"><text x="0" y="0" font-size="9.1" fill="#a9acc2" dominant-baseline="central">SUI</text></g>
<text x="699.0999999999999" y="38.1" font-size="9" fill="#27b587" text-anchor="start" font-weight="normal" dominant-baseline="central" >2.0875</text>
</g>
<line x1="732.0999999999999" y1="23" x2="732.0999999999999" y2="41" stroke="#262939" stroke-width="0.8"/>
<circle cx="741.7" cy="26.8" r="4.2" fill="#ddd2a8"/><circle cx="741.7" cy="26.8" r="2.6" fill="#f3ecd4"/>
<g clip-path="url(#tc14)">
<g transform="translate(752.1 26.7) scale(0.82 1)"><text x="0" y="0" font-size="9.1" fill="#a9acc2" dominant-baseline="central">WLD</text></g>
<text x="738.0" y="38.1" font-size="9" fill="#e8605b" text-anchor="start" font-weight="normal" dominant-baseline="central" >1.841 !</text>
</g>
<line x1="771.0" y1="23" x2="771.0" y2="41" stroke="#262939" stroke-width="0.8"/>
<path d="M779.2 24.75 L782.8 28.549999999999997 M782.8 24.75 L779.2 28.549999999999997" stroke="#e8e8f0" stroke-width="1.1"/>
<circle cx="781.00" cy="26.65" r="0.95" fill="#f4f4f8"/>
<circle cx="779.25" cy="24.75" r="0.95" fill="#f4f4f8"/>
<circle cx="782.75" cy="24.75" r="0.95" fill="#f4f4f8"/>
<circle cx="779.25" cy="28.55" r="0.95" fill="#f4f4f8"/>
<circle cx="782.75" cy="28.55" r="0.95" fill="#f4f4f8"/>
<g clip-path="url(#tc15)">
<g transform="translate(791.4 26.7) scale(0.82 1)"><text x="0" y="0" font-size="9.1" fill="#a9acc2" dominant-baseline="central">AEV</text></g>
<text x="777.3" y="38.1" font-size="9" fill="#e8605b" text-anchor="start" font-weight="normal" dominant-baseline="central" >0.2978</text>
</g>
<line x1="810.3" y1="23" x2="810.3" y2="41" stroke="#262939" stroke-width="0.8"/>
<circle cx="820" cy="26.8" r="4.2" fill="#ddd2a8"/><circle cx="820" cy="26.8" r="2.6" fill="#f3ecd4"/>
<g clip-path="url(#tc16)">
<g transform="translate(830.4 26.7) scale(0.82 1)"><text x="0" y="0" font-size="9.1" fill="#a9acc2" dominant-baseline="central">FRC</text></g>
</g>
<line x1="849.3" y1="23" x2="849.3" y2="41" stroke="#262939" stroke-width="0.8"/>
<circle cx="859.3" cy="26.8" r="4.2" fill="#ddd2a8"/><circle cx="859.3" cy="26.8" r="2.6" fill="#f3ecd4"/>
<g clip-path="url(#tc17)">
<g transform="translate(869.6999999999999 26.7) scale(0.82 1)"><text x="0" y="0" font-size="9.1" fill="#a9acc2" dominant-baseline="central">VET</text></g>
<text x="855.5999999999999" y="38.1" font-size="9" fill="#e8605b" text-anchor="start" font-weight="normal" dominant-baseline="central" >0.0206</text>
</g>
<line x1="888.5999999999999" y1="23" x2="888.5999999999999" y2="41" stroke="#262939" stroke-width="0.8"/>
<text x="464.4" y="26.1" font-size="7" fill="#9a9eb4" text-anchor="start" font-weight="normal" dominant-baseline="central" textLength="28.2" lengthAdjust="spacingAndGlyphs" >美元指数</text>
<text x="464.4" y="36.6" font-size="7.1" fill="#27b587" text-anchor="start" font-weight="normal" dominant-baseline="central" textLength="29.5" lengthAdjust="spacingAndGlyphs" >104.2343</text>
<line x1="498.7" y1="22" x2="498.7" y2="42" stroke="#262939" stroke-width="0.8"/>
<rect x="817.6" y="33.5" width="26.4" height="9" rx="1" fill="#2c2f42"/>
<text x="830.8" y="38.2" font-size="6.4" fill="#7b7f96" text-anchor="middle" font-weight="normal" dominant-baseline="central" >已下架</text>
<path d="M898.5 27.5 V36.5 M894 32 H903" stroke="#8a8ea6" stroke-width="1"/>
<rect x="162.4" y="18.6" width="100.2" height="25.4" fill="#22263a"/>
<rect x="162.4" y="18.4" width="100.2" height="1.3" fill="#2f7ff0"/>
<circle cx="174.3" cy="31.7" r="6.5" fill="#f4efe2"/>
<g fill="#e6b429"><path d="M174.3 27.9 L176.1 29.7 L175.2 30.6 L174.3 29.7 L173.4 30.6 L172.5 29.7 Z"/><path d="M174.3 35.5 L176.1 33.7 L175.2 32.8 L174.3 33.7 L173.4 32.8 L172.5 33.7 Z"/><path d="M174.3 30.6 L175.4 31.7 L174.3 32.8 L173.2 31.7 Z"/><path d="M171.2 30.8 L172.1 31.7 L171.2 32.6 L170.3 31.7 Z"/><path d="M177.4 30.8 L178.3 31.7 L177.4 32.6 L176.5 31.7 Z"/></g>
<text x="185.6" y="26.9" font-size="8.1" fill="#d0d2e6" text-anchor="start" font-weight="normal" dominant-baseline="central" textLength="56.4" lengthAdjust="spacingAndGlyphs" >ETH/USDT永续</text>
<text x="185.6" y="38.4" font-size="9" fill="#e8605b" text-anchor="start" font-weight="normal" dominant-baseline="central" textLength="32.7" lengthAdjust="spacingAndGlyphs" >2480.00</text>
<text x="222.1" y="38.4" font-size="9" fill="#e8605b" text-anchor="start" font-weight="normal" dominant-baseline="central" textLength="24.3" lengthAdjust="spacingAndGlyphs" >3.20%</text>
<rect x="53.2" y="50.8" width="8" height="8" rx="1" fill="none" stroke="#8a8ea6" stroke-width="0.9"/>
<path d="M54.5 57 L56.5 54.5 L58 56 L60 53" fill="none" stroke="#8a8ea6" stroke-width="0.8"/>
<circle cx="76.3" cy="54.8" r="4.2" fill="none" stroke="#c9a24a" stroke-width="0.9"/><path d="M74.3 55 L75.8 56.4 L78.4 53.4" fill="none" stroke="#c9a24a" stroke-width="0.9"/>
<path d="M95.2 50.3 L99.6 53.6 L98 59 H92.4 L90.8 53.6 Z" fill="none" stroke="#c9a24a" stroke-width="0.9"/><path d="M95.8 52.6 L94.2 55.4 H96.2 L94.8 57.6" fill="none" stroke="#c9a24a" stroke-width="0.8"/>
<rect x="109.6" y="52.2" width="8" height="6.6" fill="none" stroke="#8a8ea6" stroke-width="0.9"/><path d="M111.6 52.2 V50.6 H115.6 V52.2 M109.6 55 H117.6" fill="none" stroke="#8a8ea6" stroke-width="0.9"/>
<rect x="128" y="50.8" width="8" height="8" fill="none" stroke="#8a8ea6" stroke-width="0.9"/><line x1="132" y1="50.8" x2="132" y2="58.8" stroke="#8a8ea6" stroke-width="0.9"/><rect x="132" y="51.8" width="3" height="6" fill="#8a8ea6"/>
<path d="M150 51 L146.5 54.8 L150 58.6 M154 51 L150.5 54.8 L154 58.6" fill="none" stroke="#8a8ea6" stroke-width="1"/>
<text x="163.5" y="55.5" font-size="8.4" fill="#9a9db2" text-anchor="start" font-weight="normal" dominant-baseline="central" >周期</text>
<path d="M184.5 54 L186.5 56 L188.5 54" fill="none" stroke="#8a8ea6" stroke-width="0.8"/>
<text x="197" y="55.5" font-size="8.2" fill="#868aa2" text-anchor="start" font-weight="normal" dominant-baseline="central" >15分</text>
<text x="221.6" y="55.5" font-size="8.2" fill="#868aa2" text-anchor="start" font-weight="normal" dominant-baseline="central" >45分</text>
<text x="268.4" y="55.5" font-size="8.2" fill="#868aa2" text-anchor="start" font-weight="normal" dominant-baseline="central" >8时</text>
<text x="289" y="55.5" font-size="8.2" fill="#868aa2" text-anchor="start" font-weight="normal" dominant-baseline="central" >1日</text>
<text x="310" y="55.5" font-size="8.2" fill="#868aa2" text-anchor="start" font-weight="normal" dominant-baseline="central" >1秒</text>
<text x="331" y="55.5" font-size="8.2" fill="#868aa2" text-anchor="start" font-weight="normal" dominant-baseline="central" >30秒</text>
<text x="355.5" y="55.5" font-size="8.2" fill="#868aa2" text-anchor="start" font-weight="normal" dominant-baseline="central" >分时</text>
<text x="380" y="55.5" font-size="8.2" fill="#868aa2" text-anchor="start" font-weight="normal" dominant-baseline="central" >1分</text>
<text x="401" y="55.5" font-size="8.2" fill="#868aa2" text-anchor="start" font-weight="normal" dominant-baseline="central" >5分</text>
<text x="421.8" y="55.5" font-size="8.2" fill="#868aa2" text-anchor="start" font-weight="normal" dominant-baseline="central" >10分</text>
<text x="447.6" y="55.5" font-size="8.2" fill="#868aa2" text-anchor="start" font-weight="normal" dominant-baseline="central" >30分</text>
<text x="472.8" y="55.5" font-size="8.2" fill="#868aa2" text-anchor="start" font-weight="normal" dominant-baseline="central" >1时</text>
<text x="493.3" y="55.5" font-size="8.2" fill="#868aa2" text-anchor="start" font-weight="normal" dominant-baseline="central" >2时</text>
<text x="513.8" y="55.5" font-size="8.2" fill="#868aa2" text-anchor="start" font-weight="normal" dominant-baseline="central" >3时</text>
<text x="535.6" y="55.5" font-size="8.2" fill="#868aa2" text-anchor="start" font-weight="normal" dominant-baseline="central" >12时</text>
<text x="560" y="55.5" font-size="8.2" fill="#868aa2" text-anchor="start" font-weight="normal" dominant-baseline="central" >2日</text>
<text x="580.4" y="55.5" font-size="8.2" fill="#868aa2" text-anchor="start" font-weight="normal" dominant-baseline="central" >3日</text>
<text x="602" y="55.5" font-size="8.2" fill="#868aa2" text-anchor="start" font-weight="normal" dominant-baseline="central" >周K</text>
<text x="624" y="55.5" font-size="8.2" fill="#868aa2" text-anchor="start" font-weight="normal" dominant-baseline="central" >15日</text>
<rect x="243.7" y="48.9" width="18.5" height="12.2" rx="1.5" fill="#1f2b4a"/>
<text x="245.4" y="55.5" font-size="8.2" fill="#2f86f6" text-anchor="start" font-weight="normal" dominant-baseline="central" >4时</text>
<text x="667.2" y="54.8" font-size="8.4" fill="#a4a8bc" text-anchor="start" font-weight="bold" dominant-baseline="central" textLength="8" lengthAdjust="spacingAndGlyphs" >1s</text>
<rect x="684" y="52" width="8.6" height="6.4" rx="1" fill="none" stroke="#8a8ea6" stroke-width="0.9"/><circle cx="688.3" cy="55.2" r="1.8" fill="none" stroke="#8a8ea6" stroke-width="0.8"/><path d="M686.2 52 L687 50.6 H689.6 L690.4 52" fill="none" stroke="#8a8ea6" stroke-width="0.8"/>
<path d="M703.5 58.6 L704 56 L709.6 50.4 L711.6 52.4 L706 58 Z M703.5 58.9 H711" fill="none" stroke="#2f86f6" stroke-width="0.9"/>
<path d="M721.5 51.5 H728.5 V58.5 M724 58.5 H721.5 V55" fill="none" stroke="#8a8ea6" stroke-width="0.9"/>
<rect x="739.6" y="50.8" width="8" height="8" fill="none" stroke="#8a8ea6" stroke-width="0.9"/><rect x="743" y="54.5" width="4" height="3.6" fill="#8a8ea6"/>
<circle cx="763.5" cy="54.8" r="4" fill="none" stroke="#8a8ea6" stroke-width="0.9"/><circle cx="763.5" cy="54.8" r="1.6" fill="none" stroke="#8a8ea6" stroke-width="0.9"/>
<rect x="777.8" y="50.8" width="2" height="2" fill="#8a8ea6"/>
<rect x="777.8" y="56.8" width="2" height="2" fill="#8a8ea6"/>
<rect x="783.8" y="50.8" width="2" height="2" fill="#8a8ea6"/>
<rect x="783.8" y="56.8" width="2" height="2" fill="#8a8ea6"/>
<line x1="791.5" y1="50" x2="791.5" y2="60" stroke="#2c2f42" stroke-width="0.8"/>
<path d="M797 57.5 H806 Q808 57.5 807.6 55.2 Q807 53.4 805 53.6 Q804 50.8 801 51.4 Q798.6 52 798.6 54.2 Q796 54.4 796.4 56.4 Q796.8 57.5 797 57.5 Z" fill="none" stroke="#8a8ea6" stroke-width="0.8"/>
<text x="809.3" y="55.3" font-size="8" fill="#b4b7c8" text-anchor="start" font-weight="normal" dominant-baseline="central" >未命名</text>
<path d="M836 54 L838 56 L840 54" fill="none" stroke="#8a8ea6" stroke-width="0.8"/>
<rect x="847.7" y="48.3" width="34.6" height="13" rx="1" fill="#1a7ee8"/>
<text x="865" y="55.0" font-size="7.8" fill="#ffffff" text-anchor="middle" font-weight="normal" dominant-baseline="central" >K线分析</text>
<circle cx="895" cy="51.6" r="1.5" fill="none" stroke="#2f86f6" stroke-width="0.9"/><circle cx="895" cy="58" r="1.5" fill="none" stroke="#2f86f6" stroke-width="0.9"/><circle cx="889.5" cy="54.8" r="1.5" fill="none" stroke="#2f86f6" stroke-width="0.9"/><path d="M890.8 54 L893.7 52.4 M890.8 55.6 L893.7 57.2" stroke="#2f86f6" stroke-width="0.9"/>
<rect x="48.6" y="65.3" width="20.4" height="19.7" fill="#2e3f66"/>
<path d="M58.8 70 V73.6 M58.8 76.6 V80.2 M53.7 75.1 H57.3 M60.3 75.1 H63.9" stroke="#4a8cf0" stroke-width="0.9"/>
<path d="M75 71.6 H83.6 M75 75.1 H83.6 M75 78.6 H83.6" stroke="#8a8ea6" stroke-width="0.9"/>
<rect x="94.6" y="71.4" width="8.8" height="7.4" fill="none" stroke="#8a8ea6" stroke-width="0.9"/>
<path d="M115.8 79 L123.8 71.2" stroke="#8a8ea6" stroke-width="0.9"/><circle cx="118" cy="76.9" r="0.9" fill="#8a8ea6"/><circle cx="121.6" cy="73.3" r="0.9" fill="#8a8ea6"/>
<path d="M136.6 79 L144.6 71.2 M142 71.2 H144.6 V73.8" fill="none" stroke="#8a8ea6" stroke-width="0.9"/>
<circle cx="158.5" cy="75.1" r="0.9" fill="#8a8ea6"/>
<circle cx="161.5" cy="75.1" r="0.9" fill="#8a8ea6"/>
<circle cx="164.5" cy="75.1" r="0.9" fill="#8a8ea6"/>
<line x1="176" y1="70" x2="176" y2="80" stroke="#2c2f42" stroke-width="0.8"/>
<text x="191.7" y="75.1" font-size="9" fill="#d8b56c" text-anchor="middle" font-weight="normal" dominant-baseline="central" font-weight="bold">主</text>
<text x="213" y="75.1" font-size="9" fill="#d8b56c" text-anchor="middle" font-weight="normal" dominant-baseline="central" font-weight="bold">大</text>
<text x="232.7" y="75.1" font-size="9" fill="#d8b56c" text-anchor="middle" font-weight="normal" dominant-baseline="central" font-weight="bold">筹</text>
<rect x="248" y="70.8" width="8.6" height="8.6" rx="1.5" fill="none" stroke="#8a8ea6" stroke-width="0.9"/><path d="M250.6 77 L254.2 73.4" stroke="#8a8ea6" stroke-width="0.9"/>
<path d="M270.4 79 L278.2 71.4" stroke="#8a8ea6" stroke-width="0.9"/><circle cx="276.6" cy="77.4" r="1.1" fill="#8a8ea6"/>
<line x1="289" y1="70" x2="289" y2="80" stroke="#2c2f42" stroke-width="0.8"/>
<rect x="299.6" y="70.6" width="8.6" height="8.6" fill="none" stroke="#2f86f6" stroke-width="0.9"/><path d="M302 70.6 V76.4 L303.9 75 L305.8 76.4 V70.6" fill="none" stroke="#2f86f6" stroke-width="0.8"/>
<path d="M319.6 79 L320 76.6 L325.6 71 L327.8 73.2 L322.2 78.8 Z" fill="none" stroke="#8a8ea6" stroke-width="0.9"/>
<path d="M340.4 79 L340.8 76.6 L346 71.4 L348 73.4 L342.8 78.6 Z M344.5 78.6 Q346.5 76.4 349 78.4" fill="none" stroke="#8a8ea6" stroke-width="0.9"/>
<rect x="360.8" y="72" width="3.2" height="6.4" rx="1" fill="none" stroke="#8a8ea6" stroke-width="0.9"/><rect x="366.8" y="72" width="3.2" height="6.4" rx="1" fill="none" stroke="#8a8ea6" stroke-width="0.9"/><line x1="364" y1="75.2" x2="366.8" y2="75.2" stroke="#8a8ea6" stroke-width="0.9"/>
<rect x="382.6" y="73.2" width="7" height="6" rx="0.8" fill="none" stroke="#8a8ea6" stroke-width="0.9"/><path d="M384.2 73.2 V71.4 Q386.1 69.4 388 71.4" fill="none" stroke="#8a8ea6" stroke-width="0.9"/>
<rect x="402.8" y="70.8" width="8.4" height="8.4" fill="none" stroke="#8a8ea6" stroke-width="0.9"/><path d="M404.6 73.4 H409.2 M404.6 75.6 H407" stroke="#8a8ea6" stroke-width="0.8"/>
<path d="M429.4 72.6 A3.6 3.6 0 1 0 429.4 77.6" fill="none" stroke="#8a8ea6" stroke-width="1.6"/>
<path d="M443.2 71 H452 L448.8 75 V79.2 L446.4 78 V75 Z" fill="none" stroke="#8a8ea6" stroke-width="0.9"/>
<rect x="463.2" y="72.4" width="7.6" height="7" rx="0.8" fill="none" stroke="#8a8ea6" stroke-width="0.9"/><path d="M462.2 72.4 H471.8 M465.4 72.4 V70.8 H468.6 V72.4 M465.8 74.6 V77.6 M468.2 74.6 V77.6" fill="none" stroke="#8a8ea6" stroke-width="0.8"/>
<circle cx="56.7" cy="92.9" r="3.8" fill="none" stroke="#8a8ea6" stroke-width="0.9"/><path d="M54.9 92.2 L56.7 94 L58.5 92.2" fill="none" stroke="#8a8ea6" stroke-width="0.9"/>
<text x="65.8" y="92.9" font-size="7.6" fill="#8a8ea6" text-anchor="start" font-weight="normal" dominant-baseline="central" textLength="60.2" lengthAdjust="spacingAndGlyphs" >2024-11-06 08:00</text>
<text x="129" y="92.9" font-size="7.6" fill="#8a8ea6" text-anchor="start" font-weight="normal" dominant-baseline="central" >开</text>
<text x="139.4" y="92.9" font-size="7.6" fill="#27b587" text-anchor="start" font-weight="normal" dominant-baseline="central" textLength="27" lengthAdjust="spacingAndGlyphs" >2421.41</text>
<text x="170.4" y="92.9" font-size="7.6" fill="#8a8ea6" text-anchor="start" font-weight="normal" dominant-baseline="central" >高</text>
<text x="180.4" y="92.9" font-size="7.6" fill="#27b587" text-anchor="start" font-weight="normal" dominant-baseline="central" textLength="27.6" lengthAdjust="spacingAndGlyphs" >2509.79</text>
<text x="212" y="92.9" font-size="7.6" fill="#8a8ea6" text-anchor="start" font-weight="normal" dominant-baseline="central" >低</text>
<text x="221.6" y="92.9" font-size="7.6" fill="#27b587" text-anchor="start" font-weight="normal" dominant-baseline="central" textLength="28.3" lengthAdjust="spacingAndGlyphs" >2419.20</text>
<text x="255.2" y="92.9" font-size="7.6" fill="#8a8ea6" text-anchor="start" font-weight="normal" dominant-baseline="central" >收</text>
<text x="263.5" y="92.9" font-size="7.6" fill="#27b587" text-anchor="start" font-weight="normal" dominant-baseline="central" textLength="27" lengthAdjust="spacingAndGlyphs" >2480.50</text>
<text x="295.4" y="92.9" font-size="7.6" fill="#8a8ea6" text-anchor="start" font-weight="normal" dominant-baseline="central" textLength="13.6" lengthAdjust="spacingAndGlyphs" >涨幅</text>
<text x="312.6" y="92.9" font-size="7.6" fill="#27b587" text-anchor="start" font-weight="normal" dominant-baseline="central" textLength="45.4" lengthAdjust="spacingAndGlyphs" >2.44%(59.08)</text>
<text x="361.7" y="92.9" font-size="7.6" fill="#8a8ea6" text-anchor="start" font-weight="normal" dominant-baseline="central" textLength="14.7" lengthAdjust="spacingAndGlyphs" >振幅</text>
<text x="378.9" y="92.9" font-size="7.6" fill="#27b587" text-anchor="start" font-weight="normal" dominant-baseline="central" textLength="20.8" lengthAdjust="spacingAndGlyphs" >3.74%</text>
<path d="M56.4 405.2 Q56.6 399.6 59.2 399.4 Q61.8 399.6 62 405.2 Z" fill="none" stroke="#8a8ea6" stroke-width="0.8"/><line x1="55.6" y1="405.2" x2="62.8" y2="405.2" stroke="#8a8ea6" stroke-width="0.8"/>
<text x="65" y="402.4" font-size="7.3" fill="#8a8ea6" text-anchor="start" font-weight="normal" dominant-baseline="central" >MACD(12,26,9)</text>
<path d="M122.8 401.4 L126.2 401.4 L124.5 403.6 Z" fill="#8a8ea6"/>
<text x="131.5" y="402.4" font-size="7.3" fill="#8f93b3" text-anchor="start" font-weight="normal" dominant-baseline="central" textLength="35.8" lengthAdjust="spacingAndGlyphs" >DIF:-20.49</text>
<text x="170.8" y="402.4" font-size="7.3" fill="#e3d150" text-anchor="start" font-weight="bold" dominant-baseline="central" textLength="38.2" lengthAdjust="spacingAndGlyphs" >DEA:-25.86</text>
<text x="213.5" y="402.4" font-size="7.3" fill="#2ec08c" text-anchor="start" font-weight="normal" dominant-baseline="central" textLength="42" lengthAdjust="spacingAndGlyphs" >MACD:10.74</text>
<text x="159.5" y="470" font-size="7.6" fill="#7d8199" text-anchor="middle" font-weight="normal" dominant-baseline="central" >10月 26</text>
<text x="245.4" y="470" font-size="7.6" fill="#7d8199" text-anchor="middle" font-weight="normal" dominant-baseline="central" >10月 28</text>
<text x="330.8" y="470" font-size="7.6" fill="#7d8199" text-anchor="middle" font-weight="normal" dominant-baseline="central" >10月 30</text>
<text x="416.5" y="470" font-size="7.6" fill="#7d8199" text-anchor="middle" font-weight="normal" dominant-baseline="central" >11月 1</text>
<text x="502.8" y="470" font-size="7.6" fill="#7d8199" text-anchor="middle" font-weight="normal" dominant-baseline="central" >11月 3</text>
<text x="588" y="470" font-size="7.6" fill="#7d8199" text-anchor="middle" font-weight="normal" dominant-baseline="central" >11月 5</text>
<text x="674" y="470" font-size="7.6" fill="#7d8199" text-anchor="middle" font-weight="normal" dominant-baseline="central" >11月 7</text>
<text x="758.5" y="470" font-size="7.6" fill="#7d8199" text-anchor="middle" font-weight="normal" dominant-baseline="central" >11月 9</text>
<text x="843.5" y="470" font-size="7.6" fill="#7d8199" text-anchor="middle" font-weight="normal" dominant-baseline="central" >11月 11</text>
<rect x="54.6" y="484.2" width="8.4" height="8.4" rx="0.8" fill="none" stroke="#b4b7c8" stroke-width="0.9"/><path d="M54.6 486.6 H63 M56.6 483 V485 M61 483 V485" stroke="#b4b7c8" stroke-width="0.8"/><path d="M56.8 489.2 L58.4 490.6 L61 488" fill="none" stroke="#b4b7c8" stroke-width="0.8"/>
<text x="69.4" y="488.5" font-size="7.9" fill="#e6e7ee" text-anchor="start" font-weight="bold" dominant-baseline="central" textLength="32" lengthAdjust="spacingAndGlyphs" >定位到...</text>
<line x1="109.3" y1="484" x2="109.3" y2="493" stroke="#2c2f42" stroke-width="0.8"/>
<text x="117.4" y="488.5" font-size="7.9" fill="#7d8199" text-anchor="start" font-weight="normal" dominant-baseline="central" textLength="19.8" lengthAdjust="spacingAndGlyphs" >BOLL</text>
<text x="145" y="488.5" font-size="7.9" fill="#7d8199" text-anchor="start" font-weight="normal" dominant-baseline="central" textLength="17.6" lengthAdjust="spacingAndGlyphs" >EMA</text>
<text x="170.8" y="488.5" font-size="7.9" fill="#7d8199" text-anchor="start" font-weight="normal" dominant-baseline="central" textLength="12.4" lengthAdjust="spacingAndGlyphs" >MA</text>
<text x="206.8" y="488.5" font-size="7.9" fill="#7d8199" text-anchor="start" font-weight="normal" dominant-baseline="central" textLength="15.5" lengthAdjust="spacingAndGlyphs" >KDJ</text>
<text x="229.7" y="488.5" font-size="7.9" fill="#7d8199" text-anchor="start" font-weight="normal" dominant-baseline="central" textLength="27.8" lengthAdjust="spacingAndGlyphs" >Volume</text>
<text x="265.6" y="488.5" font-size="7.9" fill="#7d8199" text-anchor="start" font-weight="normal" dominant-baseline="central" textLength="11.7" lengthAdjust="spacingAndGlyphs" >RSI</text>
<line x1="198" y1="484" x2="198" y2="493" stroke="#2c2f42" stroke-width="0.8"/>
<text x="285.4" y="488.5" font-size="7.9" fill="#2f86f6" text-anchor="start" font-weight="normal" dominant-baseline="central" textLength="22.8" lengthAdjust="spacingAndGlyphs" >MACD</text>
<path d="M328 485.2 H323.4 V492 H330.2 V488.2 M326.2 489.4 L330.4 485.2" fill="none" stroke="#7d8199" stroke-width="0.8"/>
<rect x="96" y="498.4" width="19" height="1.6" fill="#2a3a66"/>
<text x="840" y="488.9" font-size="7.4" fill="#7d8199" text-anchor="start" font-weight="normal" dominant-baseline="central" >对数</text>
<text x="867.3" y="488.9" font-size="7.4" fill="#7d8199" text-anchor="start" font-weight="normal" dominant-baseline="central" >%</text>
<rect x="881.8" y="482.8" width="19" height="11.5" rx="1" fill="#1c2540"/>
<text x="883.2" y="488.9" font-size="7.4" fill="#2f86f6" text-anchor="start" font-weight="normal" dominant-baseline="central" >自动</text>
<defs><radialGradient id="hg" cx="0.35" cy="0.3" r="0.8"><stop offset="0" stop-color="#f2f2f6"/><stop offset="1" stop-color="#a9abb8"/></radialGradient></defs>
<circle cx="19.2" cy="36.6" r="7.2" fill="url(#hg)"/><ellipse cx="17.8" cy="33.6" rx="3.9" ry="1.9" fill="#26283a" transform="rotate(-28 17.8 33.6)"/><circle cx="23.6" cy="37.2" r="0.9" fill="#26283a"/><path d="M17.6 41 Q20.4 39.6 23 41" fill="none" stroke="#26283a" stroke-width="1.2"/>
<text x="18.4" y="53.5" font-size="6.8" fill="#8d90a6" text-anchor="middle" font-weight="normal" dominant-baseline="central" >首页</text>
<rect x="12.2" y="83" width="3" height="6" fill="#3a8df5"/><rect x="16.8" y="78" width="3" height="11" fill="#3a8df5"/><rect x="21.4" y="81" width="3" height="8" fill="#3a8df5"/><rect x="11" y="89.6" width="14.8" height="1.4" fill="#3a8df5"/>
<text x="18.4" y="100.6" font-size="7.2" fill="#3a8df5" text-anchor="middle" font-weight="bold" dominant-baseline="central" >行情</text>
<rect x="12.6" y="125.8" width="11.6" height="12" rx="1.5" fill="#8f92a8"/><rect x="15" y="128.4" width="6.8" height="1.4" fill="#181b2c"/><rect x="15" y="131.4" width="6.8" height="4" fill="#181b2c"/>
<circle cx="25.6" cy="124.8" r="1.8" fill="#e0464a"/>
<text x="18.4" y="148" font-size="6.8" fill="#8d90a6" text-anchor="middle" font-weight="normal" dominant-baseline="central" >快讯</text>
<rect x="12" y="174.4" width="12.8" height="10.4" rx="2" fill="#8f92a8"/><rect x="16.2" y="172" width="4.4" height="2.6" fill="#8f92a8"/><circle cx="15.6" cy="179.4" r="1.2" fill="#181b2c"/><circle cx="21.2" cy="179.4" r="1.2" fill="#181b2c"/><rect x="16" y="182" width="4.8" height="1" fill="#181b2c"/>
<text x="18.4" y="195" font-size="6.8" fill="#8d90a6" text-anchor="middle" font-weight="normal" dominant-baseline="central" >策略</text>
<rect x="13" y="219.6" width="12.6" height="12.6" rx="2.5" fill="#6f7390"/><circle cx="17.8" cy="227" r="4.6" fill="#9a9db6"/><circle cx="21.8" cy="223.6" r="3.2" fill="#b4b7cc"/><path d="M16.2 229 V227.4 M17.8 229 V225.6 M19.4 229 V226.6" stroke="#2a2d44" stroke-width="0.9"/>
<text x="18.4" y="242.5" font-size="6.8" fill="#8d90a6" text-anchor="middle" font-weight="normal" dominant-baseline="central" >Web3</text>
<g transform="translate(0.9 2)"><rect x="12" y="267.4" width="12.8" height="11" rx="1.2" fill="#9598b0"/><rect x="12" y="266" width="10" height="2.4" fill="#9598b0"/><rect x="19.6" y="271" width="5.2" height="3.8" fill="#181b2c"/><circle cx="21.4" cy="272.9" r="0.8" fill="#9598b0"/></g>
<text x="18.799999999999997" y="289.6" font-size="6.8" fill="#8d90a6" text-anchor="middle" font-weight="normal" dominant-baseline="central" >资产</text>
<rect x="12" y="316" width="12.8" height="11" rx="1.2" fill="#8f92a8"/><path d="M14.6 329.6 L16.6 327 H13 Z" fill="#8f92a8"/><path d="M14.8 321.8 Q18.4 325 22 321.8" fill="none" stroke="#1b1e30" stroke-width="1.3"/>
<rect x="15.4" y="309" width="18" height="8.4" rx="4.2" fill="#e84650"/>
<circle cx="21.4" cy="313.2" r="0.9" fill="#fff"/>
<circle cx="24.4" cy="313.2" r="0.9" fill="#fff"/>
<circle cx="27.4" cy="313.2" r="0.9" fill="#fff"/>
<text x="18.4" y="338" font-size="6.8" fill="#8d90a6" text-anchor="middle" font-weight="normal" dominant-baseline="central" >群聊</text>
<g transform="translate(1.2 1.2)"><rect x="12.4" y="362.2" width="5" height="5" fill="#8f92a8"/><rect x="12.4" y="368.6" width="5" height="5" fill="#a2a5ba"/><rect x="18.8" y="368.6" width="5" height="5" fill="#a2a5ba"/><rect x="18.6" y="362" width="5" height="5" fill="#8f92a8" transform="rotate(45 21.1 364.5)"/>
<circle cx="27" cy="376" r="0.7" fill="#8f92a8"/></g>
<text x="18.4" y="386.2" font-size="6.8" fill="#8d90a6" text-anchor="middle" font-weight="normal" dominant-baseline="central" >更多</text>
<path d="M11.6 500 L11.6 496.4 L16.2 493.6 L20.8 496.4 L20.8 500" fill="none" stroke="#caa040" stroke-width="1.3"/>
<rect x="40.6" y="267.4" width="4.6" height="23.6" rx="1" fill="#3b4262"/>
<path d="M42.2 277.6 L43.8 279.2 L42.2 280.8" fill="none" stroke="#9aa0c4" stroke-width="0.7"/>
<rect x="904.4" y="268" width="4.4" height="20" rx="1" fill="#454c6e"/>
<path d="M907.4 276.6 L905.8 278.2 L907.4 279.8" fill="none" stroke="#9aa0c4" stroke-width="0.7"/>
<rect x="918.6" y="31.8" width="3" height="3.6" rx="0.6" fill="none" stroke="#8d90a6" stroke-width="0.9"/><rect x="918.6" y="37.2" width="3" height="3.6" rx="0.6" fill="none" stroke="#8d90a6" stroke-width="0.9"/><path d="M923.0 32.4 H929.0 M923.0 35 H929.0 M923.0 37.8 H929.0 M923.0 40.4 H929.0" stroke="#8d90a6" stroke-width="0.9"/>
<rect x="919.2" y="67" width="8.8" height="11" rx="1" fill="none" stroke="#8d90a6" stroke-width="0.9"/><path d="M921.4 70.4 H925.8000000000001 M921.4 72.8 H925.8000000000001 M921.4 75.2 H924.6" stroke="#8d90a6" stroke-width="0.8"/>
<rect x="919.6" y="104.2" width="9" height="9.6" rx="1" fill="none" stroke="#8d90a6" stroke-width="0.9"/><path d="M918.2 107 V115.2 H926.6" fill="none" stroke="#8d90a6" stroke-width="0.9"/>
<text x="924.1" y="109.2" font-size="6.4" fill="#8d90a6" text-anchor="middle" font-weight="normal" dominant-baseline="central" >$</text>
<path d="M918.2 149.8 V147.6 M920.6 149.8 V146 M923.0 149.8 V144.2 M925.4 149.8 V142.6 M918.2 145 L928.0 139.6 M925.6 139.6 H928.0 V142" fill="none" stroke="#8d90a6" stroke-width="0.9"/>
<rect x="931" y="148.2" width="4.6" height="38.2" rx="2.3" fill="#0f1018" stroke="#3a3d52" stroke-width="0.6"/>
<rect x="931.6" y="155.6" width="3.4" height="30.2" rx="1.7" fill="#35c96d"/>
<rect x="918.2" y="175" width="10.8" height="7.6" rx="0.8" fill="none" stroke="#8d90a6" stroke-width="0.9"/><path d="M920.6 184.4 H926.6" stroke="#8d90a6" stroke-width="0.9"/><path d="M920.6 180.6 V177.4 M923.6 180.6 V178.4 M926.6 180.6 V177" stroke="#8d90a6" stroke-width="0.9"/>
<line x1="912" y1="198.7" x2="935" y2="198.7" stroke="#2a2d40" stroke-width="0.8"/>
<path d="M927.6 214.4 A4.4 4.4 0 1 0 926.8000000000001 219.6" fill="none" stroke="#8d90a6" stroke-width="0.9"/><path d="M928.2 211.6 V214.8 H925.2" fill="none" stroke="#8d90a6" stroke-width="0.9"/>
<text x="923.6" y="216.4" font-size="3.4" fill="#8d90a6" text-anchor="middle" font-weight="normal" dominant-baseline="central" >2D</text>
<rect x="918.0" y="436.8" width="11.2" height="11.2" rx="0.8" fill="none" stroke="#8d90a6" stroke-width="0.9"/><path d="M918.0 440.4 H929.2 M921.4 440.4 V448" stroke="#8d90a6" stroke-width="0.9"/>
<path d="M918.8000000000001 480 V477.4 A4.8 4.8 0 0 1 928.4 477.4 V480" fill="none" stroke="#8d90a6" stroke-width="1"/><rect x="918.0" y="478" width="2.4" height="4" rx="0.8" fill="#8d90a6"/><rect x="926.8000000000001" y="478" width="2.4" height="4" rx="0.8" fill="#8d90a6"/>
<text x="708" y="459" font-size="28.4" font-family="Noto Sans CJK SC, sans-serif" fill="#ffffff" stroke="#16182a" stroke-width="2.2" paint-order="stroke" dominant-baseline="central">知</text>
<text x="738.6" y="459" font-size="28.4" font-family="Noto Sans CJK SC, sans-serif" fill="#ffffff" stroke="#16182a" stroke-width="2.2" paint-order="stroke" dominant-baseline="central">乎</text>
<text x="776.4" y="459" font-size="27" font-family="Noto Sans CJK SC, sans-serif" fill="#ffffff" stroke="#16182a" stroke-width="2.2" paint-order="stroke" dominant-baseline="central">@</text>
<text x="803.4" y="459.2" font-size="27.2" font-family="Noto Sans CJK SC, sans-serif" fill="#ffffff" stroke="#16182a" stroke-width="2.2" paint-order="stroke" dominant-baseline="central">长路说币</text>
</svg>
</body></html>
